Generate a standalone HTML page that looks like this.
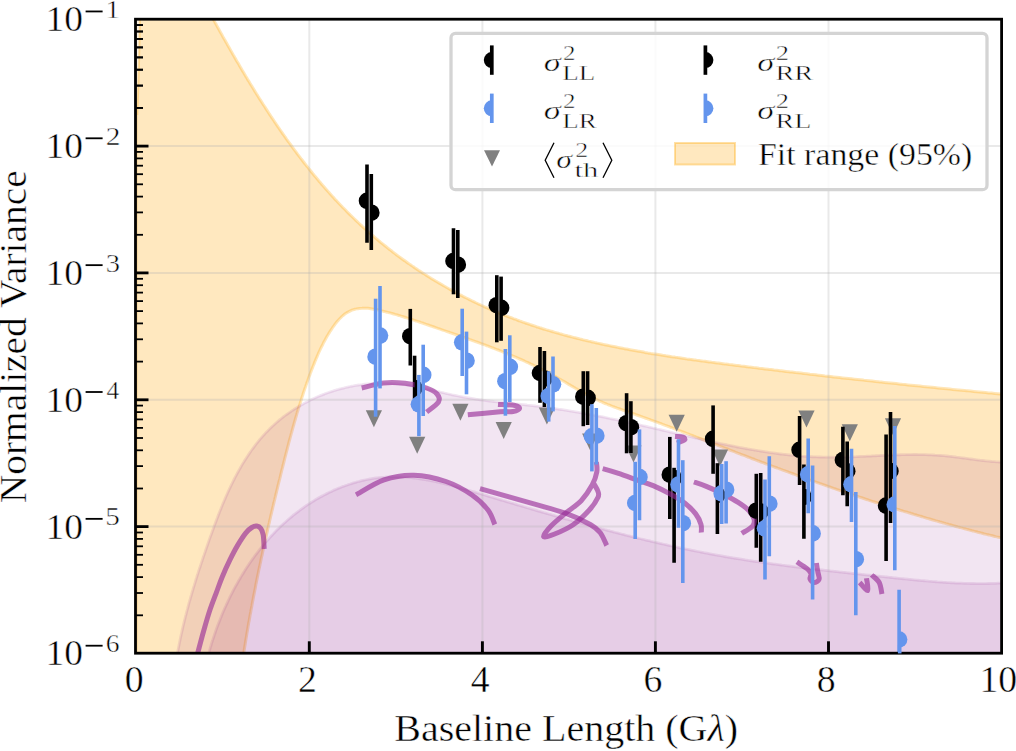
<!DOCTYPE html><html><head><meta charset="utf-8"><style>html,body{margin:0;padding:0;background:#fff;overflow:hidden;width:1016px;height:751px;}svg{display:block;}text{font-family:"Liberation Serif",serif;fill:#000;stroke:#fff;stroke-width:0.45px;}</style></head><body>
<svg width="1016" height="751" viewBox="0 0 1016 751">
<rect width="1016" height="751" fill="#fff"/>
<defs><clipPath id="c"><rect x="135.5" y="19.2" width="866.1" height="634.0"/></clipPath></defs>
<g clip-path="url(#c)">
<path d="M136,-40 L190,-20  C192.1,-19.9 192.8,-18.6 193.3,-17.8 C193.7,-16.9 194.2,-16.1 194.6,-15.2 C195.1,-14.3 195.5,-13.5 196.0,-12.6 C196.5,-11.8 196.9,-10.9 197.4,-10.1 C197.8,-9.2 198.3,-8.4 198.8,-7.5 C199.2,-6.6 199.7,-5.8 200.2,-4.9 C200.6,-4.1 201.1,-3.2 201.5,-2.4 C202.0,-1.5 202.5,-0.6 202.9,0.2 C203.4,1.1 203.9,1.9 204.3,2.8 C204.8,3.7 205.3,4.5 205.7,5.4 C206.2,6.3 206.7,7.1 207.2,8.0 C207.6,8.9 208.1,9.7 208.6,10.6 C209.0,11.4 209.5,12.3 210.0,13.2 C210.5,14.0 210.9,14.9 211.4,15.8 C211.9,16.6 212.3,17.5 212.8,18.4 C213.3,19.3 213.8,20.1 214.3,21.0 C214.7,21.9 215.2,22.7 215.7,23.6 C216.2,24.5 216.6,25.3 217.1,26.2 C217.6,27.1 218.1,27.9 218.6,28.8 C219.1,29.7 219.5,30.6 220.0,31.4 C220.5,32.3 221.0,33.2 221.5,34.0 C222.0,34.9 222.4,35.8 222.9,36.7 C223.4,37.5 223.9,38.4 224.4,39.3 C224.9,40.1 225.4,41.0 225.9,41.9 C226.4,42.8 226.9,43.6 227.3,44.5 C227.8,45.4 228.3,46.2 228.8,47.1 C229.3,48.0 229.8,48.9 230.3,49.7 C230.8,50.6 231.3,51.5 231.8,52.3 C232.3,53.2 232.8,54.1 233.3,55.0 C233.8,55.8 234.3,56.7 234.8,57.6 C235.3,58.4 235.8,59.3 236.3,60.2 C236.8,61.1 237.3,61.9 237.9,62.8 C238.4,63.7 238.9,64.5 239.4,65.4 C239.9,66.3 240.4,67.1 240.9,68.0 C241.4,68.9 241.9,69.8 242.4,70.6 C243.0,71.5 243.5,72.4 244.0,73.2 C244.5,74.1 245.0,75.0 245.5,75.8 C246.1,76.7 246.6,77.6 247.1,78.4 C247.6,79.3 248.1,80.2 248.7,81.0 C249.2,81.9 249.7,82.8 250.2,83.6 C250.8,84.5 251.3,85.4 251.8,86.2 C252.4,87.1 252.9,87.9 253.4,88.8 C253.9,89.7 254.5,90.5 255.0,91.4 C255.5,92.3 256.1,93.1 256.6,94.0 C257.1,94.8 257.7,95.7 258.2,96.6 C258.8,97.4 259.3,98.3 259.8,99.1 C260.4,100.0 260.9,100.8 261.5,101.7 C262.0,102.5 262.6,103.4 263.1,104.3 C263.7,105.1 264.2,106.0 264.8,106.8 C265.3,107.7 265.9,108.5 266.4,109.4 C267.0,110.2 267.5,111.1 268.1,111.9 C268.6,112.8 269.2,113.6 269.7,114.5 C270.3,115.3 270.8,116.2 271.4,117.0 C272.0,117.8 272.5,118.7 273.1,119.5 C273.7,120.4 274.2,121.2 274.8,122.1 C275.4,122.9 275.9,123.7 276.5,124.6 C277.1,125.4 277.6,126.3 278.2,127.1 C278.8,127.9 279.4,128.8 279.9,129.6 C280.5,130.4 281.1,131.3 281.7,132.1 C282.2,132.9 282.8,133.8 283.4,134.6 C284.0,135.4 284.6,136.3 285.2,137.1 C285.7,137.9 286.3,138.7 286.9,139.6 C287.5,140.4 288.1,141.2 288.7,142.0 C289.3,142.9 289.9,143.7 290.5,144.5 C291.1,145.3 291.7,146.1 292.2,146.9 C292.8,147.8 293.4,148.6 294.0,149.4 C294.6,150.2 295.3,151.0 295.9,151.8 C296.5,152.6 297.1,153.4 297.7,154.3 C298.3,155.1 298.9,155.9 299.5,156.7 C300.1,157.5 300.7,158.3 301.3,159.1 C302.0,159.9 302.6,160.7 303.2,161.5 C303.8,162.3 304.4,163.1 305.1,163.9 C305.7,164.7 306.3,165.5 306.9,166.3 C307.6,167.0 308.2,167.8 308.8,168.6 C309.4,169.4 310.1,170.2 310.7,171.0 C311.3,171.8 312.0,172.6 312.6,173.3 C313.2,174.1 313.9,174.9 314.5,175.7 C315.2,176.5 315.8,177.2 316.5,178.0 C317.1,178.8 317.7,179.5 318.4,180.3 C319.0,181.1 319.7,181.9 320.3,182.6 C321.0,183.4 321.6,184.2 322.3,184.9 C323.0,185.7 323.6,186.4 324.3,187.2 C324.9,188.0 325.6,188.7 326.3,189.5 C326.9,190.2 327.6,191.0 328.3,191.7 C328.9,192.5 329.6,193.2 330.3,194.0 C330.9,194.7 331.6,195.5 332.3,196.2 C333.0,196.9 333.6,197.7 334.3,198.4 C335.0,199.2 335.7,199.9 336.4,200.6 C337.1,201.4 337.7,202.1 338.4,202.8 C339.1,203.6 339.8,204.3 340.5,205.0 C341.2,205.7 341.9,206.4 342.6,207.2 C343.3,207.9 344.0,208.6 344.7,209.3 C345.4,210.0 346.1,210.7 346.8,211.5 C347.5,212.2 348.2,212.9 348.9,213.6 C349.6,214.3 350.3,215.0 351.0,215.7 C351.8,216.4 352.5,217.1 353.2,217.8 C353.9,218.5 354.6,219.2 355.4,219.9 C356.1,220.6 356.8,221.2 357.5,221.9 C358.3,222.6 359.0,223.3 359.7,224.0 C360.4,224.7 361.2,225.3 361.9,226.0 C362.6,226.7 363.4,227.4 364.1,228.0 C364.9,228.7 365.6,229.4 366.4,230.0 C367.1,230.7 367.8,231.4 368.6,232.0 C369.3,232.7 370.1,233.3 370.8,234.0 C371.6,234.6 372.4,235.3 373.1,235.9 C373.9,236.6 374.6,237.2 375.4,237.9 C376.1,238.5 376.9,239.2 377.7,239.8 C378.4,240.5 379.2,241.1 380.0,241.7 C380.7,242.4 381.5,243.0 382.3,243.6 C383.1,244.3 383.8,244.9 384.6,245.5 C385.4,246.1 386.2,246.7 387.0,247.4 C387.7,248.0 388.5,248.6 389.3,249.2 C390.1,249.8 390.9,250.4 391.7,251.0 C392.4,251.7 393.2,252.3 394.0,252.9 C394.8,253.5 395.6,254.1 396.4,254.7 C397.2,255.3 398.0,255.9 398.8,256.5 C399.6,257.0 400.4,257.6 401.2,258.2 C402.0,258.8 402.8,259.4 403.6,260.0 C404.4,260.6 405.3,261.1 406.1,261.7 C406.9,262.3 407.7,262.9 408.5,263.4 C409.3,264.0 410.1,264.6 411.0,265.1 C411.8,265.7 412.6,266.3 413.4,266.8 C414.2,267.4 415.1,267.9 415.9,268.5 C416.7,269.1 417.5,269.6 418.4,270.2 C419.2,270.7 420.0,271.3 420.9,271.8 C421.7,272.3 422.5,272.9 423.4,273.4 C424.2,274.0 425.0,274.5 425.9,275.0 C426.7,275.6 427.6,276.1 428.4,276.6 C429.2,277.2 430.1,277.7 430.9,278.2 C431.8,278.7 432.6,279.2 433.5,279.8 C434.3,280.3 435.2,280.8 436.0,281.3 C436.9,281.8 437.7,282.3 438.6,282.8 C439.4,283.3 440.3,283.8 441.2,284.3 C442.0,284.8 442.9,285.3 443.7,285.8 C444.6,286.3 445.5,286.8 446.3,287.3 C447.2,287.8 448.1,288.3 448.9,288.8 C449.8,289.3 450.7,289.7 451.5,290.2 C452.4,290.7 453.3,291.2 454.2,291.7 C455.0,292.1 455.9,292.6 456.8,293.1 C457.7,293.5 458.5,294.0 459.4,294.5 C460.3,294.9 461.2,295.4 462.1,295.8 C463.0,296.3 463.8,296.8 464.7,297.2 C465.6,297.7 466.5,298.1 467.4,298.5 C468.3,299.0 469.2,299.4 470.1,299.9 C471.0,300.3 471.8,300.7 472.7,301.2 C473.6,301.6 474.5,302.0 475.4,302.5 C476.3,302.9 477.2,303.3 478.1,303.8 C479.0,304.2 479.9,304.6 480.8,305.0 C481.7,305.4 482.6,305.8 483.5,306.3 C484.4,306.7 485.3,307.1 486.3,307.5 C487.2,307.9 488.1,308.3 489.0,308.7 C489.9,309.1 490.8,309.5 491.7,309.9 C492.6,310.3 493.5,310.7 494.5,311.1 C495.4,311.4 496.3,311.8 497.2,312.2 C498.1,312.6 499.0,313.0 500.0,313.4 C500.9,313.7 501.8,314.1 502.7,314.5 C503.7,314.8 504.6,315.2 505.5,315.6 C506.4,315.9 507.4,316.3 508.3,316.7 C509.2,317.0 510.1,317.4 511.1,317.7 C512.0,318.1 512.9,318.4 513.9,318.8 C514.8,319.1 515.7,319.5 516.7,319.8 C517.6,320.2 518.5,320.5 519.5,320.9 C520.4,321.2 521.3,321.5 522.3,321.9 C523.2,322.2 524.2,322.5 525.1,322.8 C526.0,323.2 527.0,323.5 527.9,323.8 C528.9,324.1 529.8,324.5 530.7,324.8 C531.7,325.1 532.6,325.4 533.6,325.7 C534.5,326.0 535.5,326.4 536.4,326.7 C537.4,327.0 538.3,327.3 539.3,327.6 C540.2,327.9 541.2,328.2 542.1,328.5 C543.1,328.8 544.0,329.1 545.0,329.4 C545.9,329.7 546.9,329.9 547.9,330.2 C548.8,330.5 549.8,330.8 550.7,331.1 C551.7,331.4 552.6,331.7 553.6,331.9 C554.6,332.2 555.5,332.5 556.5,332.8 C557.4,333.0 558.4,333.3 559.4,333.6 C560.3,333.9 561.3,334.1 562.3,334.4 C563.2,334.7 564.2,334.9 565.2,335.2 C566.1,335.4 567.1,335.7 568.1,336.0 C569.0,336.2 570.0,336.5 571.0,336.7 C571.9,337.0 572.9,337.2 573.9,337.5 C574.8,337.7 575.8,338.0 576.8,338.2 C577.8,338.5 578.7,338.7 579.7,338.9 C580.7,339.2 581.7,339.4 582.6,339.7 C583.6,339.9 584.6,340.1 585.6,340.4 C586.5,340.6 587.5,340.8 588.5,341.1 C589.5,341.3 590.5,341.5 591.4,341.7 C592.4,342.0 593.4,342.2 594.4,342.4 C595.4,342.6 596.3,342.9 597.3,343.1 C598.3,343.3 599.3,343.5 600.3,343.7 C601.2,343.9 602.2,344.2 603.2,344.4 C604.2,344.6 605.2,344.8 606.2,345.0 C607.2,345.2 608.1,345.4 609.1,345.6 C610.1,345.8 611.1,346.0 612.1,346.2 C613.1,346.4 614.1,346.6 615.1,346.8 C616.0,347.0 617.0,347.2 618.0,347.4 C619.0,347.6 620.0,347.8 621.0,348.0 C622.0,348.2 623.0,348.4 624.0,348.6 C625.0,348.8 625.9,349.0 626.9,349.1 C627.9,349.3 628.9,349.5 629.9,349.7 C630.9,349.9 631.9,350.1 632.9,350.2 C633.9,350.4 634.9,350.6 635.9,350.8 C636.9,351.0 637.9,351.1 638.9,351.3 C639.9,351.5 640.9,351.7 641.9,351.8 C642.9,352.0 643.9,352.2 644.8,352.4 C645.8,352.5 646.8,352.7 647.8,352.9 C648.8,353.0 649.8,353.2 650.8,353.4 C651.8,353.5 652.8,353.7 653.8,353.9 C654.8,354.0 655.8,354.2 656.8,354.3 C657.8,354.5 658.8,354.7 659.8,354.8 C660.8,355.0 661.8,355.1 662.8,355.3 C663.8,355.4 664.8,355.6 665.8,355.8 C666.8,355.9 667.8,356.1 668.8,356.2 C669.8,356.4 670.8,356.5 671.8,356.7 C672.8,356.8 673.8,357.0 674.8,357.1 C675.8,357.3 676.8,357.4 677.9,357.6 C678.9,357.7 679.9,357.9 680.9,358.0 C681.9,358.2 682.9,358.3 683.9,358.4 C684.9,358.6 685.9,358.7 686.9,358.9 C687.9,359.0 688.9,359.1 689.9,359.3 C690.9,359.4 691.9,359.6 692.9,359.7 C693.9,359.8 694.9,360.0 695.9,360.1 C696.9,360.3 697.9,360.4 698.9,360.5 C699.9,360.7 700.9,360.8 701.9,360.9 C702.9,361.1 703.9,361.2 704.9,361.3 C705.9,361.5 706.9,361.6 707.9,361.7 C708.9,361.9 710.0,362.0 711.0,362.1 C712.0,362.3 713.0,362.4 714.0,362.5 C715.0,362.7 716.0,362.8 717.0,362.9 C718.0,363.0 719.0,363.2 720.0,363.3 C721.0,363.4 722.0,363.6 723.0,363.7 C724.0,363.8 725.0,363.9 726.0,364.1 C727.0,364.2 728.0,364.3 729.0,364.5 C730.0,364.6 731.0,364.7 732.0,364.8 C733.0,365.0 734.0,365.1 735.0,365.2 C736.0,365.3 737.0,365.5 738.0,365.6 C739.0,365.7 740.0,365.8 741.0,366.0 C742.0,366.1 743.0,366.2 744.0,366.3 C745.0,366.4 746.0,366.6 747.0,366.7 C748.0,366.8 749.0,366.9 750.0,367.1 C751.0,367.2 752.0,367.3 753.0,367.4 C754.0,367.6 755.0,367.7 756.0,367.8 C757.0,367.9 758.0,368.0 759.0,368.2 C760.0,368.3 761.0,368.4 762.0,368.5 C763.0,368.6 764.0,368.8 765.0,368.9 C766.0,369.0 767.0,369.1 768.0,369.2 C769.0,369.4 770.0,369.5 771.0,369.6 C772.0,369.7 773.0,369.8 774.0,370.0 C775.0,370.1 776.0,370.2 777.0,370.3 C778.0,370.4 779.0,370.6 780.0,370.7 C781.0,370.8 781.9,370.9 782.9,371.0 C783.9,371.1 784.9,371.3 785.9,371.4 C786.9,371.5 787.9,371.6 788.9,371.7 C789.9,371.9 790.9,372.0 791.9,372.1 C792.9,372.2 793.9,372.3 794.9,372.4 C795.9,372.6 796.9,372.7 797.9,372.8 C798.9,372.9 799.9,373.0 800.9,373.1 C801.9,373.2 802.8,373.4 803.8,373.5 C804.8,373.6 805.8,373.7 806.8,373.8 C807.8,373.9 808.8,374.0 809.8,374.2 C810.8,374.3 811.8,374.4 812.8,374.5 C813.8,374.6 814.8,374.7 815.8,374.8 C816.8,375.0 817.8,375.1 818.7,375.2 C819.7,375.3 820.7,375.4 821.7,375.5 C822.7,375.6 823.7,375.7 824.7,375.9 C825.7,376.0 826.7,376.1 827.7,376.2 C828.7,376.3 829.7,376.4 830.7,376.5 C831.7,376.6 832.6,376.8 833.6,376.9 C834.6,377.0 835.6,377.1 836.6,377.2 C837.6,377.3 838.6,377.4 839.6,377.5 C840.6,377.6 841.6,377.8 842.6,377.9 C843.6,378.0 844.6,378.1 845.5,378.2 C846.5,378.3 847.5,378.4 848.5,378.5 C849.5,378.6 850.5,378.7 851.5,378.8 C852.5,379.0 853.5,379.1 854.5,379.2 C855.5,379.3 856.5,379.4 857.5,379.5 C858.4,379.6 859.4,379.7 860.4,379.8 C861.4,379.9 862.4,380.0 863.4,380.1 C864.4,380.3 865.4,380.4 866.4,380.5 C867.4,380.6 868.4,380.7 869.4,380.8 C870.3,380.9 871.3,381.0 872.3,381.1 C873.3,381.2 874.3,381.3 875.3,381.4 C876.3,381.5 877.3,381.6 878.3,381.7 C879.3,381.8 880.3,382.0 881.3,382.1 C882.2,382.2 883.2,382.3 884.2,382.4 C885.2,382.5 886.2,382.6 887.2,382.7 C888.2,382.8 889.2,382.9 890.2,383.0 C891.2,383.1 892.2,383.2 893.2,383.3 C894.1,383.4 895.1,383.5 896.1,383.6 C897.1,383.7 898.1,383.8 899.1,383.9 C900.1,384.0 901.1,384.1 902.1,384.3 C903.1,384.4 904.1,384.5 905.1,384.6 C906.1,384.7 907.0,384.8 908.0,384.9 C909.0,385.0 910.0,385.1 911.0,385.2 C912.0,385.3 913.0,385.4 914.0,385.5 C915.0,385.6 916.0,385.7 917.0,385.8 C918.0,385.9 919.0,386.0 919.9,386.1 C920.9,386.2 921.9,386.3 922.9,386.4 C923.9,386.5 924.9,386.6 925.9,386.7 C926.9,386.8 927.9,386.9 928.9,387.0 C929.9,387.1 930.9,387.2 931.9,387.3 C932.9,387.4 933.9,387.5 934.8,387.6 C935.8,387.7 936.8,387.8 937.8,387.9 C938.8,388.0 939.8,388.1 940.8,388.2 C941.8,388.3 942.8,388.4 943.8,388.5 C944.8,388.6 945.8,388.7 946.8,388.8 C947.8,388.9 948.8,389.0 949.8,389.1 C950.8,389.2 951.8,389.3 952.7,389.4 C953.7,389.5 954.7,389.6 955.7,389.7 C956.7,389.8 957.7,389.9 958.7,390.0 C959.7,390.1 960.7,390.2 961.7,390.3 C962.7,390.4 963.7,390.5 964.7,390.6 C965.7,390.7 966.7,390.7 967.7,390.8 C968.7,390.9 969.7,391.0 970.7,391.1 C971.7,391.2 972.7,391.3 973.7,391.4 C974.7,391.5 975.7,391.6 976.7,391.7 C977.7,391.8 978.7,391.9 979.7,392.0 C980.6,392.1 981.6,392.2 982.6,392.3 C983.6,392.4 984.6,392.5 985.6,392.6 C986.6,392.7 987.6,392.8 988.6,392.9 C989.6,393.0 990.6,393.1 991.6,393.1 C992.6,393.2 993.6,393.3 994.6,393.4 C995.6,393.5 996.6,393.6 997.6,393.7 C998.6,393.8 999.6,393.9 1000.6,394.0 C1001.6,394.1 1002.6,394.2 1003.6,394.3 C1004.6,394.4 1005.6,394.5 1006.6,394.6 C1007.6,394.7 1009.1,394.8 1009.6,394.8 L1010,540  C1009.6,539.9 1008.1,539.6 1007.1,539.4 C1006.2,539.1 1005.2,538.9 1004.2,538.7 C1003.2,538.4 1002.3,538.2 1001.3,538.0 C1000.3,537.7 999.3,537.5 998.3,537.3 C997.4,537.0 996.4,536.8 995.4,536.6 C994.4,536.3 993.5,536.1 992.5,535.8 C991.5,535.6 990.5,535.4 989.6,535.1 C988.6,534.9 987.6,534.6 986.6,534.4 C985.7,534.2 984.7,533.9 983.7,533.7 C982.7,533.4 981.8,533.2 980.8,532.9 C979.8,532.7 978.8,532.4 977.9,532.2 C976.9,531.9 975.9,531.7 974.9,531.4 C974.0,531.2 973.0,530.9 972.0,530.7 C971.1,530.4 970.1,530.2 969.1,529.9 C968.1,529.6 967.2,529.4 966.2,529.1 C965.2,528.9 964.3,528.6 963.3,528.4 C962.3,528.1 961.3,527.8 960.4,527.6 C959.4,527.3 958.4,527.1 957.5,526.8 C956.5,526.5 955.5,526.3 954.6,526.0 C953.6,525.7 952.6,525.5 951.7,525.2 C950.7,524.9 949.7,524.7 948.7,524.4 C947.8,524.1 946.8,523.9 945.8,523.6 C944.9,523.3 943.9,523.1 942.9,522.8 C942.0,522.5 941.0,522.2 940.0,522.0 C939.1,521.7 938.1,521.4 937.2,521.1 C936.2,520.9 935.2,520.6 934.3,520.3 C933.3,520.0 932.3,519.8 931.4,519.5 C930.4,519.2 929.4,518.9 928.5,518.6 C927.5,518.4 926.5,518.1 925.6,517.8 C924.6,517.5 923.7,517.2 922.7,516.9 C921.7,516.7 920.8,516.4 919.8,516.1 C918.8,515.8 917.9,515.5 916.9,515.2 C916.0,514.9 915.0,514.7 914.0,514.4 C913.1,514.1 912.1,513.8 911.1,513.5 C910.2,513.2 909.2,512.9 908.3,512.6 C907.3,512.3 906.3,512.0 905.4,511.8 C904.4,511.5 903.5,511.2 902.5,510.9 C901.5,510.6 900.6,510.3 899.6,510.0 C898.7,509.7 897.7,509.4 896.8,509.1 C895.8,508.8 894.8,508.5 893.9,508.2 C892.9,507.9 892.0,507.6 891.0,507.3 C890.0,507.0 889.1,506.7 888.1,506.4 C887.2,506.1 886.2,505.8 885.3,505.5 C884.3,505.2 883.4,504.9 882.4,504.6 C881.4,504.3 880.5,503.9 879.5,503.6 C878.6,503.3 877.6,503.0 876.7,502.7 C875.7,502.4 874.8,502.1 873.8,501.8 C872.8,501.5 871.9,501.2 870.9,500.9 C870.0,500.5 869.0,500.2 868.1,499.9 C867.1,499.6 866.2,499.3 865.2,499.0 C864.3,498.7 863.3,498.3 862.4,498.0 C861.4,497.7 860.4,497.4 859.5,497.1 C858.5,496.8 857.6,496.4 856.6,496.1 C855.7,495.8 854.7,495.5 853.8,495.2 C852.8,494.9 851.9,494.5 850.9,494.2 C850.0,493.9 849.0,493.6 848.1,493.2 C847.1,492.9 846.2,492.6 845.2,492.3 C844.3,492.0 843.3,491.6 842.4,491.3 C841.4,491.0 840.5,490.7 839.5,490.3 C838.6,490.0 837.6,489.7 836.7,489.4 C835.7,489.0 834.8,488.7 833.8,488.4 C832.9,488.0 831.9,487.7 831.0,487.4 C830.0,487.1 829.1,486.7 828.1,486.4 C827.2,486.1 826.2,485.7 825.3,485.4 C824.4,485.1 823.4,484.7 822.5,484.4 C821.5,484.1 820.6,483.7 819.6,483.4 C818.7,483.1 817.7,482.7 816.8,482.4 C815.8,482.1 814.9,481.7 813.9,481.4 C813.0,481.0 812.1,480.7 811.1,480.4 C810.2,480.0 809.2,479.7 808.3,479.4 C807.3,479.0 806.4,478.7 805.4,478.3 C804.5,478.0 803.5,477.7 802.6,477.3 C801.7,477.0 800.7,476.6 799.8,476.3 C798.8,476.0 797.9,475.6 796.9,475.3 C796.0,474.9 795.1,474.6 794.1,474.2 C793.2,473.9 792.2,473.6 791.3,473.2 C790.3,472.9 789.4,472.5 788.5,472.2 C787.5,471.8 786.6,471.5 785.6,471.1 C784.7,470.8 783.7,470.4 782.8,470.1 C781.9,469.7 780.9,469.4 780.0,469.0 C779.0,468.7 778.1,468.4 777.2,468.0 C776.2,467.7 775.3,467.3 774.3,467.0 C773.4,466.6 772.4,466.2 771.5,465.9 C770.6,465.5 769.6,465.2 768.7,464.8 C767.7,464.5 766.8,464.1 765.9,463.8 C764.9,463.4 764.0,463.1 763.0,462.7 C762.1,462.4 761.2,462.0 760.2,461.7 C759.3,461.3 758.4,461.0 757.4,460.6 C756.5,460.2 755.5,459.9 754.6,459.5 C753.7,459.2 752.7,458.8 751.8,458.5 C750.8,458.1 749.9,457.7 749.0,457.4 C748.0,457.0 747.1,456.7 746.2,456.3 C745.2,456.0 744.3,455.6 743.3,455.2 C742.4,454.9 741.5,454.5 740.5,454.2 C739.6,453.8 738.7,453.4 737.7,453.1 C736.8,452.7 735.8,452.4 734.9,452.0 C734.0,451.6 733.0,451.3 732.1,450.9 C731.2,450.6 730.2,450.2 729.3,449.8 C728.4,449.5 727.4,449.1 726.5,448.7 C725.5,448.4 724.6,448.0 723.7,447.7 C722.7,447.3 721.8,446.9 720.9,446.6 C719.9,446.2 719.0,445.9 718.1,445.5 C717.1,445.1 716.2,444.8 715.2,444.4 C714.3,444.0 713.4,443.7 712.4,443.3 C711.5,443.0 710.6,442.6 709.6,442.2 C708.7,441.9 707.8,441.5 706.8,441.1 C705.9,440.8 704.9,440.4 704.0,440.1 C703.1,439.7 702.1,439.3 701.2,439.0 C700.3,438.6 699.3,438.3 698.4,437.9 C697.5,437.5 696.5,437.2 695.6,436.8 C694.6,436.5 693.7,436.1 692.8,435.7 C691.8,435.4 690.9,435.0 690.0,434.7 C689.0,434.3 688.1,433.9 687.1,433.6 C686.2,433.2 685.3,432.9 684.3,432.5 C683.4,432.2 682.5,431.8 681.5,431.4 C680.6,431.1 679.6,430.7 678.7,430.4 C677.8,430.0 676.8,429.7 675.9,429.3 C674.9,429.0 674.0,428.6 673.1,428.2 C672.1,427.9 671.2,427.5 670.2,427.2 C669.3,426.8 668.4,426.5 667.4,426.1 C666.5,425.8 665.5,425.4 664.6,425.1 C663.7,424.7 662.7,424.4 661.8,424.0 C660.8,423.7 659.9,423.3 659.0,423.0 C658.0,422.6 657.1,422.3 656.1,421.9 C655.2,421.6 654.2,421.2 653.3,420.9 C652.4,420.6 651.4,420.2 650.5,419.9 C649.5,419.5 648.6,419.2 647.6,418.8 C646.7,418.5 645.7,418.2 644.8,417.8 C643.9,417.5 642.9,417.1 642.0,416.8 C641.0,416.5 640.1,416.1 639.1,415.8 C638.2,415.4 637.2,415.1 636.3,414.8 C635.3,414.4 634.4,414.1 633.4,413.8 C632.5,413.4 631.5,413.1 630.6,412.8 C629.6,412.4 628.7,412.1 627.7,411.8 C626.8,411.5 625.8,411.1 624.9,410.8 C623.9,410.5 623.0,410.1 622.0,409.8 C621.1,409.5 620.2,409.1 619.2,408.8 C618.3,408.5 617.3,408.1 616.4,407.8 C615.4,407.5 614.5,407.1 613.5,406.8 C612.6,406.4 611.7,406.1 610.7,405.7 C609.8,405.3 608.9,405.0 607.9,404.6 C607.0,404.2 606.1,403.9 605.1,403.5 C604.2,403.1 603.3,402.7 602.4,402.3 C601.5,401.9 600.5,401.5 599.6,401.1 C598.7,400.7 597.8,400.3 596.9,399.8 C596.0,399.4 595.1,399.0 594.2,398.5 C593.3,398.1 592.4,397.6 591.5,397.2 C590.6,396.7 589.8,396.3 588.9,395.8 C588.0,395.3 587.1,394.9 586.2,394.4 C585.4,393.9 584.5,393.4 583.6,392.9 C582.7,392.4 581.8,391.9 581.0,391.5 C580.1,391.0 579.2,390.5 578.4,390.0 C577.5,389.5 576.6,389.0 575.8,388.5 C574.9,387.9 574.0,387.4 573.2,386.9 C572.3,386.4 571.4,385.9 570.6,385.4 C569.7,384.9 568.8,384.4 568.0,383.9 C567.1,383.4 566.2,382.9 565.4,382.3 C564.5,381.8 563.6,381.3 562.7,380.8 C561.9,380.3 561.0,379.8 560.1,379.3 C559.3,378.8 558.4,378.3 557.5,377.8 C556.6,377.3 555.8,376.8 554.9,376.3 C554.0,375.8 553.1,375.4 552.2,374.9 C551.4,374.4 550.5,373.9 549.6,373.4 C548.7,373.0 547.8,372.5 546.9,372.0 C546.0,371.6 545.2,371.1 544.3,370.6 C543.4,370.2 542.5,369.7 541.6,369.3 C540.7,368.8 539.8,368.4 538.9,367.9 C538.0,367.5 537.1,367.0 536.2,366.6 C535.3,366.1 534.4,365.7 533.5,365.3 C532.6,364.8 531.6,364.4 530.7,364.0 C529.8,363.6 528.9,363.1 528.0,362.7 C527.1,362.3 526.2,361.9 525.3,361.5 C524.3,361.0 523.4,360.6 522.5,360.2 C521.6,359.8 520.7,359.4 519.7,359.0 C518.8,358.6 517.9,358.2 517.0,357.8 C516.1,357.4 515.1,357.0 514.2,356.6 C513.3,356.2 512.4,355.8 511.4,355.4 C510.5,355.1 509.6,354.7 508.6,354.3 C507.7,353.9 506.8,353.5 505.9,353.1 C504.9,352.8 504.0,352.4 503.1,352.0 C502.1,351.6 501.2,351.3 500.3,350.9 C499.3,350.5 498.4,350.1 497.4,349.8 C496.5,349.4 495.6,349.1 494.6,348.7 C493.7,348.3 492.8,348.0 491.8,347.6 C490.9,347.2 489.9,346.9 489.0,346.5 C488.0,346.2 487.1,345.8 486.2,345.5 C485.2,345.1 484.3,344.8 483.3,344.4 C482.4,344.1 481.5,343.7 480.5,343.4 C479.6,343.0 478.6,342.7 477.7,342.3 C476.7,342.0 475.8,341.7 474.8,341.3 C473.9,341.0 472.9,340.6 472.0,340.3 C471.1,340.0 470.1,339.6 469.2,339.3 C468.2,338.9 467.3,338.6 466.3,338.3 C465.4,337.9 464.4,337.6 463.5,337.3 C462.5,336.9 461.6,336.6 460.6,336.3 C459.7,335.9 458.7,335.6 457.8,335.3 C456.9,334.9 455.9,334.6 455.0,334.3 C454.0,334.0 453.1,333.6 452.1,333.3 C451.2,333.0 450.2,332.6 449.3,332.3 C448.3,332.0 447.4,331.7 446.4,331.3 C445.5,331.0 444.6,330.7 443.6,330.4 C442.7,330.0 441.7,329.7 440.8,329.4 C439.8,329.1 438.9,328.7 437.9,328.4 C437.0,328.1 436.1,327.8 435.1,327.4 C434.2,327.1 433.2,326.8 432.3,326.4 C431.4,326.1 430.4,325.8 429.5,325.5 C428.5,325.1 427.6,324.8 426.6,324.5 C425.7,324.2 424.8,323.8 423.8,323.5 C422.9,323.2 421.9,322.9 421.0,322.6 C420.1,322.2 419.1,321.9 418.2,321.6 C417.2,321.3 416.3,321.0 415.3,320.7 C414.4,320.3 413.4,320.0 412.5,319.7 C411.5,319.4 410.6,319.1 409.6,318.8 C408.7,318.5 407.7,318.2 406.8,317.9 C405.8,317.6 404.8,317.3 403.9,317.0 C402.9,316.7 402.0,316.4 401.0,316.1 C400.0,315.8 399.1,315.5 398.1,315.2 C397.1,314.9 396.1,314.6 395.2,314.4 C394.2,314.1 393.2,313.8 392.2,313.5 C391.2,313.3 390.2,313.0 389.3,312.7 C388.3,312.5 387.3,312.2 386.3,312.0 C385.3,311.7 384.3,311.5 383.3,311.2 C382.3,311.0 381.2,310.7 380.2,310.5 C379.2,310.2 378.2,310.0 377.2,309.8 C376.2,309.6 375.1,309.4 374.1,309.2 C373.1,309.0 372.1,308.8 371.1,308.7 C370.1,308.6 369.0,308.4 368.0,308.3 C367.0,308.3 366.0,308.2 365.0,308.2 C364.0,308.1 363.1,308.1 362.1,308.2 C361.1,308.2 360.1,308.3 359.2,308.4 C358.2,308.5 357.3,308.7 356.4,308.9 C355.4,309.1 354.5,309.4 353.6,309.6 C352.7,309.9 351.8,310.3 351.0,310.6 C350.1,311.0 349.2,311.4 348.4,311.9 C347.6,312.3 346.8,312.8 346.0,313.3 C345.2,313.8 344.4,314.4 343.7,315.0 C342.9,315.6 342.2,316.3 341.5,316.9 C340.8,317.6 340.1,318.3 339.4,319.0 C338.7,319.7 338.1,320.5 337.4,321.3 C336.8,322.0 336.1,322.8 335.5,323.6 C334.9,324.4 334.3,325.3 333.7,326.1 C333.1,326.9 332.5,327.7 332.0,328.6 C331.4,329.4 330.9,330.3 330.3,331.1 C329.8,332.0 329.2,332.8 328.7,333.7 C328.2,334.6 327.6,335.4 327.1,336.3 C326.6,337.2 326.1,338.1 325.6,339.0 C325.1,339.9 324.7,340.8 324.2,341.6 C323.7,342.5 323.2,343.4 322.8,344.4 C322.3,345.3 321.9,346.2 321.4,347.1 C321.0,348.0 320.5,348.9 320.1,349.8 C319.7,350.8 319.3,351.7 318.8,352.6 C318.4,353.5 318.0,354.5 317.6,355.4 C317.2,356.3 316.8,357.3 316.4,358.2 C316.0,359.1 315.6,360.1 315.2,361.0 C314.8,362.0 314.4,362.9 314.1,363.9 C313.7,364.8 313.3,365.7 312.9,366.7 C312.6,367.6 312.2,368.6 311.8,369.5 C311.5,370.5 311.1,371.4 310.7,372.4 C310.4,373.3 310.0,374.2 309.7,375.2 C309.3,376.1 309.0,377.1 308.6,378.0 C308.3,379.0 307.9,379.9 307.6,380.9 C307.3,381.8 306.9,382.8 306.6,383.7 C306.2,384.7 305.9,385.6 305.6,386.6 C305.3,387.5 304.9,388.5 304.6,389.4 C304.3,390.4 304.0,391.3 303.6,392.3 C303.3,393.2 303.0,394.2 302.7,395.2 C302.4,396.1 302.1,397.1 301.8,398.0 C301.5,399.0 301.2,399.9 300.9,400.9 C300.6,401.8 300.3,402.8 300.0,403.8 C299.7,404.7 299.4,405.7 299.1,406.6 C298.8,407.6 298.5,408.5 298.2,409.5 C297.9,410.5 297.6,411.4 297.3,412.4 C297.0,413.3 296.8,414.3 296.5,415.3 C296.2,416.2 295.9,417.2 295.6,418.1 C295.4,419.1 295.1,420.1 294.8,421.0 C294.5,422.0 294.3,422.9 294.0,423.9 C293.7,424.9 293.4,425.8 293.2,426.8 C292.9,427.8 292.6,428.7 292.4,429.7 C292.1,430.6 291.8,431.6 291.6,432.6 C291.3,433.5 291.1,434.5 290.8,435.5 C290.5,436.4 290.3,437.4 290.0,438.4 C289.8,439.3 289.5,440.3 289.2,441.3 C289.0,442.2 288.7,443.2 288.5,444.2 C288.2,445.1 288.0,446.1 287.7,447.1 C287.5,448.0 287.2,449.0 287.0,450.0 C286.7,450.9 286.5,451.9 286.2,452.9 C286.0,453.8 285.7,454.8 285.5,455.8 C285.2,456.7 285.0,457.7 284.7,458.7 C284.5,459.7 284.3,460.6 284.0,461.6 C283.8,462.6 283.5,463.5 283.3,464.5 C283.0,465.5 282.8,466.5 282.6,467.4 C282.3,468.4 282.1,469.4 281.8,470.3 C281.6,471.3 281.3,472.3 281.1,473.3 C280.9,474.2 280.6,475.2 280.4,476.2 C280.1,477.2 279.9,478.1 279.7,479.1 C279.4,480.1 279.2,481.0 278.9,482.0 C278.7,483.0 278.5,484.0 278.2,484.9 C278.0,485.9 277.7,486.9 277.5,487.9 C277.3,488.8 277.0,489.8 276.8,490.8 C276.6,491.8 276.3,492.7 276.1,493.7 C275.8,494.7 275.6,495.7 275.4,496.6 C275.1,497.6 274.9,498.6 274.7,499.6 C274.4,500.6 274.2,501.5 274.0,502.5 C273.7,503.5 273.5,504.5 273.3,505.4 C273.0,506.4 272.8,507.4 272.6,508.4 C272.4,509.4 272.1,510.3 271.9,511.3 C271.7,512.3 271.4,513.3 271.2,514.2 C271.0,515.2 270.7,516.2 270.5,517.2 C270.3,518.2 270.1,519.1 269.8,520.1 C269.6,521.1 269.4,522.1 269.2,523.1 C268.9,524.0 268.7,525.0 268.5,526.0 C268.3,527.0 268.0,528.0 267.8,528.9 C267.6,529.9 267.4,530.9 267.2,531.9 C266.9,532.9 266.7,533.8 266.5,534.8 C266.3,535.8 266.0,536.8 265.8,537.8 C265.6,538.8 265.4,539.7 265.2,540.7 C265.0,541.7 264.7,542.7 264.5,543.7 C264.3,544.6 264.1,545.6 263.9,546.6 C263.7,547.6 263.4,548.6 263.2,549.6 C263.0,550.5 262.8,551.5 262.6,552.5 C262.4,553.5 262.2,554.5 262.0,555.5 C261.7,556.4 261.5,557.4 261.3,558.4 C261.1,559.4 260.9,560.4 260.7,561.4 C260.5,562.4 260.3,563.3 260.1,564.3 C259.9,565.3 259.7,566.3 259.5,567.3 C259.2,568.3 259.0,569.2 258.8,570.2 C258.6,571.2 258.4,572.2 258.2,573.2 C258.0,574.2 257.8,575.2 257.6,576.1 C257.4,577.1 257.2,578.1 257.0,579.1 C256.8,580.1 256.6,581.1 256.4,582.1 C256.2,583.0 256.0,584.0 255.8,585.0 C255.6,586.0 255.5,587.0 255.3,588.0 C255.1,589.0 254.9,589.9 254.7,590.9 C254.5,591.9 254.3,592.9 254.1,593.9 C253.9,594.9 253.7,595.9 253.5,596.9 C253.3,597.8 253.2,598.8 253.0,599.8 C252.8,600.8 252.6,601.8 252.4,602.8 C252.2,603.8 252.0,604.8 251.9,605.7 C251.7,606.7 251.5,607.7 251.3,608.7 C251.1,609.7 250.9,610.7 250.8,611.7 C250.6,612.7 250.4,613.6 250.2,614.6 C250.0,615.6 249.9,616.6 249.7,617.6 C249.5,618.6 249.3,619.6 249.2,620.6 C249.0,621.6 248.8,622.5 248.6,623.5 C248.5,624.5 248.3,625.5 248.1,626.5 C248.0,627.5 247.8,628.5 247.6,629.5 C247.4,630.5 247.3,631.4 247.1,632.4 C246.9,633.4 246.8,634.4 246.6,635.4 C246.5,636.4 246.3,637.4 246.1,638.4 C246.0,639.4 245.8,640.3 245.6,641.3 C245.5,642.3 245.3,643.3 245.2,644.3 C245.0,645.3 244.8,646.3 244.7,647.3 C244.5,648.3 244.4,649.3 244.2,650.2 C244.1,651.2 243.9,652.2 243.8,653.2 C243.6,654.2 243.5,655.2 243.3,656.2 C243.2,657.2 243.0,658.2 242.9,659.1 C242.7,660.1 242.6,661.1 242.4,662.1 C242.3,663.1 242.1,664.1 242.0,665.1 C241.8,666.1 241.7,667.1 241.6,668.1 C241.4,669.0 241.3,670.0 241.1,671.0 C241.0,672.0 240.9,673.0 240.7,674.0 C240.6,675.0 240.5,676.0 240.3,677.0 C240.2,678.0 240.0,679.4 239.9,679.9 L136,680 Z" fill="rgba(255,165,0,0.25)" stroke="rgba(255,165,0,0.28)" stroke-width="3"/>
<path d="M136,19 L139.6,19 C139.2,50 138.4,80 137,115 L136,115 Z" fill="rgba(255,255,255,0.75)"/>
<path d="M139.8,19 C139.4,50 138.6,80 137.2,115" fill="none" stroke="rgba(255,165,0,0.28)" stroke-width="2.2"/>
<path d="M173.3,680.4 C173.3,679.9 173.5,678.3 173.7,677.3 C173.8,676.2 173.9,675.2 174.1,674.1 C174.2,673.1 174.4,672.1 174.5,671.0 C174.7,670.0 174.8,669.0 175.0,667.9 C175.2,666.9 175.3,665.9 175.5,664.9 C175.6,663.8 175.8,662.8 176.0,661.8 C176.1,660.8 176.3,659.8 176.5,658.7 C176.7,657.7 176.8,656.7 177.0,655.7 C177.2,654.7 177.4,653.7 177.6,652.7 C177.7,651.7 177.9,650.7 178.1,649.7 C178.3,648.7 178.5,647.7 178.7,646.7 C178.9,645.7 179.1,644.7 179.3,643.7 C179.5,642.7 179.7,641.8 179.9,640.8 C180.1,639.8 180.3,638.8 180.5,637.8 C180.7,636.8 180.9,635.9 181.1,634.9 C181.4,633.9 181.6,632.9 181.8,631.9 C182.0,631.0 182.2,630.0 182.5,629.0 C182.7,628.1 182.9,627.1 183.1,626.1 C183.4,625.1 183.6,624.2 183.8,623.2 C184.1,622.2 184.3,621.3 184.5,620.3 C184.8,619.4 185.0,618.4 185.2,617.4 C185.5,616.5 185.7,615.5 186.0,614.6 C186.2,613.6 186.5,612.6 186.7,611.7 C187.0,610.7 187.2,609.8 187.5,608.8 C187.7,607.9 188.0,606.9 188.3,606.0 C188.5,605.0 188.8,604.1 189.0,603.1 C189.3,602.2 189.6,601.2 189.8,600.3 C190.1,599.3 190.4,598.4 190.6,597.4 C190.9,596.5 191.2,595.5 191.5,594.6 C191.7,593.6 192.0,592.7 192.3,591.7 C192.6,590.8 192.9,589.9 193.1,588.9 C193.4,588.0 193.7,587.0 194.0,586.1 C194.3,585.1 194.6,584.2 194.9,583.2 C195.2,582.3 195.4,581.4 195.7,580.4 C196.0,579.5 196.3,578.5 196.6,577.6 C196.9,576.6 197.2,575.7 197.5,574.8 C197.8,573.8 198.1,572.9 198.4,571.9 C198.7,571.0 199.0,570.0 199.3,569.1 C199.7,568.1 200.0,567.2 200.3,566.3 C200.6,565.3 200.9,564.4 201.2,563.4 C201.5,562.5 201.8,561.5 202.2,560.6 C202.5,559.6 202.8,558.7 203.1,557.7 C203.4,556.8 203.8,555.8 204.1,554.9 C204.4,553.9 204.7,553.0 205.1,552.0 C205.4,551.1 205.7,550.1 206.0,549.2 C206.4,548.2 206.7,547.3 207.0,546.3 C207.4,545.4 207.7,544.4 208.0,543.5 C208.4,542.5 208.7,541.5 209.0,540.6 C209.4,539.6 209.7,538.7 210.0,537.7 C210.4,536.7 210.7,535.8 211.1,534.8 C211.4,533.9 211.8,532.9 212.1,531.9 C212.5,531.0 212.8,530.0 213.2,529.0 C213.5,528.1 213.9,527.1 214.2,526.1 C214.6,525.2 214.9,524.2 215.3,523.3 C215.6,522.3 216.0,521.3 216.4,520.4 C216.7,519.4 217.1,518.4 217.5,517.5 C217.8,516.5 218.2,515.5 218.6,514.6 C218.9,513.6 219.3,512.7 219.7,511.7 C220.1,510.7 220.5,509.8 220.9,508.8 C221.2,507.9 221.6,506.9 222.0,506.0 C222.4,505.0 222.8,504.1 223.2,503.1 C223.6,502.2 224.0,501.2 224.4,500.3 C224.8,499.3 225.2,498.4 225.6,497.4 C226.0,496.5 226.5,495.5 226.9,494.6 C227.3,493.7 227.7,492.7 228.1,491.8 C228.6,490.8 229.0,489.9 229.4,489.0 C229.9,488.0 230.3,487.1 230.7,486.2 C231.2,485.3 231.6,484.3 232.1,483.4 C232.5,482.5 233.0,481.6 233.4,480.7 C233.9,479.8 234.4,478.8 234.8,477.9 C235.3,477.0 235.8,476.1 236.3,475.2 C236.7,474.3 237.2,473.4 237.7,472.5 C238.2,471.6 238.7,470.8 239.2,469.9 C239.7,469.0 240.2,468.1 240.7,467.2 C241.2,466.3 241.7,465.5 242.2,464.6 C242.7,463.7 243.2,462.9 243.8,462.0 C244.3,461.2 244.8,460.3 245.4,459.4 C245.9,458.6 246.5,457.7 247.0,456.9 C247.6,456.1 248.1,455.2 248.7,454.4 C249.2,453.6 249.8,452.7 250.4,451.9 C250.9,451.1 251.5,450.3 252.1,449.5 C252.7,448.7 253.3,447.9 253.9,447.1 C254.5,446.3 255.1,445.5 255.7,444.7 C256.3,443.9 256.9,443.1 257.5,442.3 C258.1,441.6 258.8,440.8 259.4,440.0 C260.0,439.3 260.7,438.5 261.3,437.8 C262.0,437.0 262.6,436.3 263.3,435.5 C264.0,434.8 264.6,434.1 265.3,433.3 C266.0,432.6 266.7,431.9 267.4,431.2 C268.1,430.5 268.7,429.8 269.5,429.1 C270.2,428.4 270.9,427.7 271.6,427.0 C272.3,426.3 273.0,425.7 273.8,425.0 C274.5,424.3 275.2,423.7 276.0,423.0 C276.7,422.4 277.5,421.7 278.2,421.1 C279.0,420.4 279.7,419.8 280.5,419.2 C281.3,418.6 282.1,417.9 282.8,417.3 C283.6,416.7 284.4,416.1 285.2,415.5 C286.0,414.9 286.8,414.4 287.6,413.8 C288.4,413.2 289.2,412.6 290.0,412.1 C290.9,411.5 291.7,410.9 292.5,410.4 C293.3,409.9 294.2,409.3 295.0,408.8 C295.8,408.2 296.7,407.7 297.5,407.2 C298.4,406.7 299.2,406.2 300.1,405.7 C300.9,405.2 301.8,404.7 302.7,404.2 C303.5,403.7 304.4,403.2 305.3,402.8 C306.2,402.3 307.1,401.8 307.9,401.4 C308.8,400.9 309.7,400.5 310.6,400.0 C311.5,399.6 312.4,399.2 313.3,398.7 C314.2,398.3 315.1,397.9 316.0,397.5 C316.9,397.1 317.8,396.7 318.8,396.3 C319.7,395.9 320.6,395.5 321.5,395.2 C322.5,394.8 323.4,394.4 324.3,394.1 C325.2,393.7 326.2,393.4 327.1,393.0 C328.1,392.7 329.0,392.4 329.9,392.0 C330.9,391.7 331.8,391.4 332.8,391.1 C333.7,390.8 334.7,390.5 335.7,390.2 C336.6,389.9 337.6,389.6 338.5,389.4 C339.5,389.1 340.5,388.8 341.4,388.6 C342.4,388.3 343.4,388.1 344.3,387.9 C345.3,387.6 346.3,387.4 347.3,387.2 C348.2,387.0 349.2,386.7 350.2,386.5 C351.2,386.3 352.2,386.2 353.2,386.0 C354.1,385.8 355.1,385.6 356.1,385.4 C357.1,385.3 358.1,385.1 359.1,385.0 C360.1,384.8 361.1,384.7 362.1,384.6 C363.1,384.4 364.1,384.3 365.0,384.2 C366.0,384.1 367.0,384.0 368.0,383.9 C369.0,383.8 370.0,383.7 371.0,383.7 C372.0,383.6 373.0,383.5 374.1,383.5 C375.1,383.4 376.1,383.4 377.1,383.3 C378.1,383.3 379.1,383.3 380.1,383.2 C381.1,383.2 382.1,383.2 383.1,383.2 C384.1,383.2 385.1,383.2 386.1,383.2 C387.1,383.3 388.1,383.3 389.1,383.3 C390.1,383.4 391.1,383.4 392.1,383.5 C393.1,383.5 394.2,383.6 395.2,383.7 C396.2,383.8 397.2,383.9 398.2,384.0 C399.2,384.1 400.2,384.2 401.2,384.3 C402.2,384.4 403.2,384.5 404.2,384.7 C405.2,384.8 406.2,384.9 407.2,385.1 C408.2,385.2 409.2,385.4 410.2,385.6 C411.2,385.7 412.2,385.9 413.2,386.1 C414.2,386.3 415.2,386.5 416.2,386.7 C417.2,386.8 418.2,387.0 419.2,387.3 C420.2,387.5 421.2,387.7 422.2,387.9 C423.2,388.1 424.2,388.3 425.2,388.5 C426.1,388.7 427.1,389.0 428.1,389.2 C429.1,389.4 430.1,389.7 431.1,389.9 C432.1,390.1 433.1,390.3 434.1,390.6 C435.1,390.8 436.1,391.1 437.1,391.3 C438.1,391.5 439.1,391.8 440.1,392.0 C441.1,392.2 442.1,392.5 443.1,392.7 C444.0,392.9 445.0,393.2 446.0,393.4 C447.0,393.6 448.0,393.9 449.0,394.1 C450.0,394.3 451.0,394.5 452.0,394.8 C453.0,395.0 454.0,395.2 455.0,395.4 C456.0,395.6 457.0,395.8 458.0,396.0 C458.9,396.2 459.9,396.4 460.9,396.6 C461.9,396.8 462.9,397.0 463.9,397.2 C464.9,397.4 465.9,397.6 466.9,397.7 C467.9,397.9 468.9,398.1 469.9,398.2 C470.9,398.4 471.9,398.6 472.9,398.7 C473.9,398.9 474.9,399.0 475.9,399.2 C476.9,399.3 477.9,399.5 478.8,399.6 C479.8,399.8 480.8,399.9 481.8,400.0 C482.8,400.2 483.8,400.3 484.8,400.4 C485.8,400.6 486.8,400.7 487.8,400.8 C488.8,400.9 489.8,401.1 490.8,401.2 C491.8,401.3 492.8,401.4 493.8,401.5 C494.8,401.7 495.8,401.8 496.8,401.9 C497.8,402.0 498.8,402.1 499.8,402.2 C500.8,402.3 501.8,402.4 502.8,402.5 C503.8,402.7 504.8,402.8 505.7,402.9 C506.7,403.0 507.7,403.1 508.7,403.2 C509.7,403.3 510.7,403.4 511.7,403.5 C512.7,403.6 513.7,403.7 514.7,403.8 C515.7,403.9 516.7,404.0 517.7,404.1 C518.7,404.2 519.7,404.3 520.7,404.4 C521.7,404.5 522.7,404.6 523.7,404.7 C524.7,404.8 525.7,404.9 526.7,405.0 C527.7,405.2 528.6,405.3 529.6,405.4 C530.6,405.5 531.6,405.6 532.6,405.7 C533.6,405.8 534.6,405.9 535.6,406.0 C536.6,406.2 537.6,406.3 538.6,406.4 C539.6,406.5 540.6,406.7 541.6,406.8 C542.6,406.9 543.6,407.0 544.6,407.2 C545.5,407.3 546.5,407.4 547.5,407.6 C548.5,407.7 549.5,407.8 550.5,408.0 C551.5,408.1 552.5,408.2 553.5,408.4 C554.5,408.5 555.5,408.7 556.5,408.8 C557.5,409.0 558.4,409.1 559.4,409.3 C560.4,409.4 561.4,409.6 562.4,409.7 C563.4,409.9 564.4,410.0 565.4,410.2 C566.4,410.4 567.4,410.5 568.4,410.7 C569.4,410.8 570.3,411.0 571.3,411.2 C572.3,411.3 573.3,411.5 574.3,411.7 C575.3,411.8 576.3,412.0 577.3,412.2 C578.3,412.4 579.2,412.5 580.2,412.7 C581.2,412.9 582.2,413.1 583.2,413.3 C584.2,413.4 585.2,413.6 586.2,413.8 C587.2,414.0 588.1,414.2 589.1,414.3 C590.1,414.5 591.1,414.7 592.1,414.9 C593.1,415.1 594.1,415.3 595.1,415.5 C596.1,415.7 597.0,415.9 598.0,416.1 C599.0,416.3 600.0,416.5 601.0,416.6 C602.0,416.8 603.0,417.0 603.9,417.2 C604.9,417.4 605.9,417.6 606.9,417.8 C607.9,418.0 608.9,418.2 609.9,418.5 C610.9,418.7 611.8,418.9 612.8,419.1 C613.8,419.3 614.8,419.5 615.8,419.7 C616.8,419.9 617.8,420.1 618.7,420.3 C619.7,420.5 620.7,420.7 621.7,421.0 C622.7,421.2 623.7,421.4 624.7,421.6 C625.6,421.8 626.6,422.0 627.6,422.2 C628.6,422.5 629.6,422.7 630.6,422.9 C631.5,423.1 632.5,423.3 633.5,423.6 C634.5,423.8 635.5,424.0 636.5,424.2 C637.4,424.4 638.4,424.7 639.4,424.9 C640.4,425.1 641.4,425.3 642.4,425.6 C643.3,425.8 644.3,426.0 645.3,426.2 C646.3,426.5 647.3,426.7 648.3,426.9 C649.2,427.1 650.2,427.4 651.2,427.6 C652.2,427.8 653.2,428.0 654.2,428.3 C655.1,428.5 656.1,428.7 657.1,429.0 C658.1,429.2 659.1,429.4 660.0,429.6 C661.0,429.9 662.0,430.1 663.0,430.3 C664.0,430.6 664.9,430.8 665.9,431.0 C666.9,431.3 667.9,431.5 668.9,431.7 C669.9,431.9 670.8,432.2 671.8,432.4 C672.8,432.6 673.8,432.9 674.8,433.1 C675.7,433.3 676.7,433.6 677.7,433.8 C678.7,434.0 679.7,434.2 680.6,434.5 C681.6,434.7 682.6,434.9 683.6,435.2 C684.6,435.4 685.5,435.6 686.5,435.9 C687.5,436.1 688.5,436.3 689.5,436.5 C690.4,436.8 691.4,437.0 692.4,437.2 C693.4,437.5 694.4,437.7 695.3,437.9 C696.3,438.1 697.3,438.4 698.3,438.6 C699.3,438.8 700.2,439.0 701.2,439.2 C702.2,439.5 703.2,439.7 704.2,439.9 C705.1,440.1 706.1,440.4 707.1,440.6 C708.1,440.8 709.1,441.0 710.1,441.2 C711.0,441.4 712.0,441.7 713.0,441.9 C714.0,442.1 715.0,442.3 715.9,442.5 C716.9,442.7 717.9,442.9 718.9,443.2 C719.9,443.4 720.8,443.6 721.8,443.8 C722.8,444.0 723.8,444.2 724.8,444.4 C725.8,444.6 726.7,444.8 727.7,445.0 C728.7,445.2 729.7,445.4 730.7,445.6 C731.6,445.8 732.6,446.0 733.6,446.2 C734.6,446.4 735.6,446.6 736.6,446.8 C737.5,447.0 738.5,447.2 739.5,447.4 C740.5,447.5 741.5,447.7 742.5,447.9 C743.4,448.1 744.4,448.3 745.4,448.5 C746.4,448.6 747.4,448.8 748.4,449.0 C749.4,449.2 750.3,449.4 751.3,449.5 C752.3,449.7 753.3,449.9 754.3,450.0 C755.3,450.2 756.3,450.4 757.2,450.5 C758.2,450.7 759.2,450.9 760.2,451.0 C761.2,451.2 762.2,451.3 763.2,451.5 C764.1,451.6 765.1,451.8 766.1,451.9 C767.1,452.1 768.1,452.2 769.1,452.4 C770.1,452.5 771.1,452.7 772.1,452.8 C773.0,452.9 774.0,453.1 775.0,453.2 C776.0,453.3 777.0,453.5 778.0,453.6 C779.0,453.7 780.0,453.9 781.0,454.0 C782.0,454.1 782.9,454.2 783.9,454.3 C784.9,454.4 785.9,454.6 786.9,454.7 C787.9,454.8 788.9,454.9 789.9,455.0 C790.9,455.1 791.9,455.2 792.9,455.3 C793.9,455.4 794.9,455.5 795.9,455.6 C796.9,455.7 797.9,455.7 798.8,455.8 C799.8,455.9 800.8,456.0 801.8,456.1 C802.8,456.1 803.8,456.2 804.8,456.3 C805.8,456.3 806.8,456.4 807.8,456.5 C808.8,456.5 809.8,456.6 810.8,456.7 C811.8,456.7 812.8,456.8 813.8,456.8 C814.8,456.8 815.8,456.9 816.8,456.9 C817.8,457.0 818.8,457.0 819.8,457.0 C820.8,457.1 821.8,457.1 822.8,457.1 C823.8,457.1 824.9,457.2 825.9,457.2 C826.9,457.2 827.9,457.2 828.9,457.2 C829.9,457.2 830.9,457.2 831.9,457.2 C832.9,457.2 833.9,457.2 834.9,457.2 C835.9,457.2 836.9,457.2 837.9,457.2 C838.9,457.2 840.0,457.1 841.0,457.1 C842.0,457.1 843.0,457.1 844.0,457.1 C845.0,457.0 846.0,457.0 847.0,457.0 C848.0,456.9 849.0,456.9 850.1,456.9 C851.1,456.8 852.1,456.8 853.1,456.8 C854.1,456.7 855.1,456.7 856.1,456.7 C857.1,456.6 858.1,456.6 859.2,456.5 C860.2,456.5 861.2,456.4 862.2,456.4 C863.2,456.4 864.2,456.3 865.2,456.3 C866.3,456.2 867.3,456.2 868.3,456.1 C869.3,456.1 870.3,456.0 871.3,456.0 C872.3,455.9 873.3,455.9 874.4,455.8 C875.4,455.8 876.4,455.7 877.4,455.7 C878.4,455.6 879.4,455.6 880.4,455.5 C881.5,455.5 882.5,455.4 883.5,455.4 C884.5,455.4 885.5,455.3 886.5,455.3 C887.5,455.2 888.5,455.2 889.6,455.1 C890.6,455.1 891.6,455.1 892.6,455.0 C893.6,455.0 894.6,454.9 895.6,454.9 C896.7,454.9 897.7,454.8 898.7,454.8 C899.7,454.8 900.7,454.7 901.7,454.7 C902.7,454.7 903.7,454.7 904.7,454.7 C905.8,454.6 906.8,454.6 907.8,454.6 C908.8,454.6 909.8,454.6 910.8,454.6 C911.8,454.5 912.8,454.5 913.8,454.5 C914.9,454.5 915.9,454.5 916.9,454.5 C917.9,454.5 918.9,454.6 919.9,454.6 C920.9,454.6 921.9,454.6 922.9,454.6 C923.9,454.6 924.9,454.7 925.9,454.7 C926.9,454.7 927.9,454.7 929.0,454.8 C930.0,454.8 931.0,454.9 932.0,454.9 C933.0,455.0 934.0,455.0 935.0,455.1 C936.0,455.1 937.0,455.2 938.0,455.3 C939.0,455.3 940.0,455.4 941.0,455.5 C942.0,455.6 943.0,455.6 944.0,455.7 C945.0,455.8 946.0,455.9 947.0,456.0 C948.0,456.1 949.0,456.2 950.0,456.3 C951.0,456.4 952.0,456.6 953.0,456.7 C954.0,456.8 955.0,456.9 955.9,457.0 C956.9,457.2 957.9,457.3 958.9,457.4 C959.9,457.5 960.9,457.7 961.9,457.8 C962.9,457.9 963.9,458.1 964.9,458.2 C965.9,458.3 966.9,458.5 967.9,458.6 C968.9,458.7 969.9,458.9 970.9,459.0 C971.9,459.1 972.9,459.3 973.9,459.4 C974.9,459.5 975.8,459.7 976.8,459.8 C977.8,459.9 978.8,460.0 979.8,460.2 C980.8,460.3 981.8,460.4 982.8,460.5 C983.8,460.6 984.8,460.8 985.8,460.9 C986.8,461.0 987.8,461.1 988.8,461.2 C989.8,461.3 990.8,461.4 991.8,461.5 C992.8,461.5 993.8,461.6 994.8,461.7 C995.8,461.8 996.8,461.9 997.8,461.9 C998.9,462.0 999.9,462.0 1000.9,462.1 C1001.9,462.1 1002.9,462.2 1003.9,462.2 C1004.9,462.2 1005.9,462.3 1006.9,462.3 C1007.9,462.3 1009.5,462.3 1010.0,462.3 L1010,700 L172,700 Z" fill="rgba(128,0,128,0.10)" stroke="rgba(128,0,128,0.10)" stroke-width="2.8"/>
<path d="M202.7,679.3 C202.8,678.8 203.1,677.4 203.3,676.5 C203.5,675.6 203.7,674.6 203.9,673.7 C204.0,672.7 204.2,671.8 204.4,670.9 C204.7,669.9 204.9,669.0 205.1,668.0 C205.3,667.1 205.5,666.1 205.7,665.2 C205.9,664.2 206.2,663.3 206.4,662.4 C206.6,661.4 206.9,660.5 207.1,659.5 C207.3,658.6 207.6,657.6 207.8,656.7 C208.1,655.7 208.3,654.8 208.6,653.8 C208.9,652.9 209.1,651.9 209.4,651.0 C209.7,650.0 209.9,649.1 210.2,648.1 C210.5,647.2 210.8,646.2 211.1,645.3 C211.3,644.3 211.6,643.4 211.9,642.4 C212.2,641.5 212.5,640.5 212.8,639.6 C213.1,638.6 213.5,637.7 213.8,636.7 C214.1,635.8 214.4,634.8 214.7,633.9 C215.1,632.9 215.4,632.0 215.7,631.1 C216.1,630.1 216.4,629.2 216.7,628.2 C217.1,627.3 217.4,626.3 217.8,625.4 C218.1,624.4 218.5,623.5 218.9,622.6 C219.2,621.6 219.6,620.7 220.0,619.7 C220.3,618.8 220.7,617.9 221.1,616.9 C221.5,616.0 221.8,615.1 222.2,614.1 C222.6,613.2 223.0,612.3 223.4,611.3 C223.8,610.4 224.2,609.5 224.6,608.5 C225.1,607.6 225.5,606.7 225.9,605.8 C226.3,604.8 226.7,603.9 227.2,603.0 C227.6,602.1 228.0,601.2 228.5,600.2 C228.9,599.3 229.3,598.4 229.8,597.5 C230.2,596.6 230.7,595.7 231.1,594.8 C231.6,593.9 232.1,592.9 232.5,592.0 C233.0,591.1 233.5,590.2 233.9,589.3 C234.4,588.4 234.9,587.5 235.4,586.6 C235.9,585.8 236.4,584.9 236.9,584.0 C237.4,583.1 237.9,582.2 238.4,581.3 C238.9,580.4 239.4,579.5 239.9,578.7 C240.4,577.8 240.9,576.9 241.5,576.0 C242.0,575.2 242.5,574.3 243.1,573.4 C243.6,572.6 244.1,571.7 244.7,570.8 C245.2,570.0 245.8,569.1 246.3,568.3 C246.9,567.4 247.4,566.6 248.0,565.7 C248.6,564.9 249.1,564.0 249.7,563.2 C250.3,562.4 250.9,561.5 251.4,560.7 C252.0,559.8 252.6,559.0 253.2,558.2 C253.8,557.4 254.4,556.5 255.0,555.7 C255.6,554.9 256.2,554.1 256.8,553.3 C257.4,552.5 258.1,551.7 258.7,550.9 C259.3,550.1 259.9,549.3 260.6,548.5 C261.2,547.7 261.8,546.9 262.5,546.1 C263.1,545.3 263.8,544.6 264.4,543.8 C265.1,543.0 265.7,542.2 266.4,541.5 C267.0,540.7 267.7,539.9 268.4,539.2 C269.1,538.4 269.7,537.7 270.4,536.9 C271.1,536.2 271.8,535.4 272.5,534.7 C273.2,534.0 273.9,533.2 274.6,532.5 C275.3,531.8 276.0,531.0 276.7,530.3 C277.4,529.6 278.1,528.9 278.8,528.2 C279.5,527.5 280.3,526.8 281.0,526.1 C281.7,525.4 282.5,524.7 283.2,524.0 C284.0,523.3 284.7,522.7 285.5,522.0 C286.2,521.3 287.0,520.6 287.7,520.0 C288.5,519.3 289.2,518.7 290.0,518.0 C290.8,517.4 291.6,516.7 292.3,516.1 C293.1,515.4 293.9,514.8 294.7,514.2 C295.5,513.5 296.3,512.9 297.1,512.3 C297.9,511.7 298.7,511.1 299.5,510.5 C300.3,509.9 301.1,509.3 302.0,508.7 C302.8,508.1 303.6,507.5 304.4,506.9 C305.3,506.4 306.1,505.8 306.9,505.2 C307.8,504.7 308.6,504.1 309.5,503.6 C310.3,503.0 311.2,502.5 312.0,501.9 C312.9,501.4 313.7,500.9 314.6,500.3 C315.5,499.8 316.3,499.3 317.2,498.8 C318.1,498.3 319.0,497.8 319.8,497.3 C320.7,496.8 321.6,496.3 322.5,495.9 C323.4,495.4 324.3,494.9 325.2,494.5 C326.1,494.0 327.0,493.5 327.9,493.1 C328.8,492.6 329.7,492.2 330.6,491.8 C331.5,491.4 332.4,490.9 333.3,490.5 C334.2,490.1 335.2,489.7 336.1,489.3 C337.0,488.9 337.9,488.5 338.8,488.1 C339.8,487.8 340.7,487.4 341.6,487.0 C342.6,486.7 343.5,486.3 344.4,486.0 C345.4,485.6 346.3,485.3 347.3,485.0 C348.2,484.6 349.1,484.3 350.1,484.0 C351.0,483.7 352.0,483.4 352.9,483.1 C353.9,482.8 354.8,482.5 355.8,482.3 C356.7,482.0 357.7,481.7 358.7,481.5 C359.6,481.2 360.6,481.0 361.5,480.7 C362.5,480.5 363.5,480.3 364.4,480.1 C365.4,479.9 366.4,479.7 367.3,479.5 C368.3,479.3 369.3,479.1 370.2,478.9 C371.2,478.7 372.2,478.6 373.2,478.4 C374.1,478.3 375.1,478.1 376.1,478.0 C377.0,477.9 378.0,477.7 379.0,477.6 C380.0,477.5 381.0,477.4 381.9,477.3 C382.9,477.2 383.9,477.1 384.9,477.1 C385.8,477.0 386.8,476.9 387.8,476.9 C388.8,476.9 389.8,476.8 390.7,476.8 C391.7,476.8 392.7,476.7 393.7,476.7 C394.7,476.7 395.6,476.7 396.6,476.8 C397.6,476.8 398.6,476.8 399.6,476.8 C400.5,476.9 401.5,476.9 402.5,477.0 C403.5,477.0 404.5,477.1 405.5,477.1 C406.4,477.2 407.4,477.3 408.4,477.4 C409.4,477.5 410.4,477.6 411.4,477.7 C412.3,477.8 413.3,477.9 414.3,478.0 C415.3,478.1 416.3,478.3 417.3,478.4 C418.2,478.5 419.2,478.7 420.2,478.8 C421.2,479.0 422.2,479.1 423.2,479.3 C424.2,479.4 425.1,479.6 426.1,479.8 C427.1,480.0 428.1,480.2 429.1,480.3 C430.1,480.5 431.0,480.7 432.0,480.9 C433.0,481.1 434.0,481.3 435.0,481.5 C436.0,481.8 437.0,482.0 437.9,482.2 C438.9,482.4 439.9,482.6 440.9,482.9 C441.9,483.1 442.9,483.3 443.9,483.6 C444.8,483.8 445.8,484.1 446.8,484.3 C447.8,484.6 448.8,484.8 449.8,485.1 C450.7,485.3 451.7,485.6 452.7,485.8 C453.7,486.1 454.7,486.4 455.7,486.6 C456.6,486.9 457.6,487.2 458.6,487.5 C459.6,487.7 460.6,488.0 461.6,488.3 C462.5,488.6 463.5,488.8 464.5,489.1 C465.5,489.4 466.5,489.7 467.5,490.0 C468.4,490.3 469.4,490.5 470.4,490.8 C471.4,491.1 472.4,491.4 473.4,491.7 C474.3,492.0 475.3,492.3 476.3,492.6 C477.3,492.9 478.3,493.2 479.2,493.5 C480.2,493.7 481.2,494.0 482.2,494.3 C483.2,494.6 484.1,494.9 485.1,495.2 C486.1,495.5 487.1,495.8 488.0,496.1 C489.0,496.4 490.0,496.7 491.0,497.0 C492.0,497.3 492.9,497.5 493.9,497.8 C494.9,498.1 495.9,498.4 496.8,498.7 C497.8,499.0 498.8,499.3 499.8,499.6 C500.7,499.9 501.7,500.2 502.7,500.5 C503.7,500.7 504.6,501.0 505.6,501.3 C506.6,501.6 507.6,501.9 508.5,502.2 C509.5,502.5 510.5,502.8 511.5,503.1 C512.4,503.3 513.4,503.6 514.4,503.9 C515.3,504.2 516.3,504.5 517.3,504.8 C518.3,505.1 519.2,505.4 520.2,505.7 C521.2,505.9 522.1,506.2 523.1,506.5 C524.1,506.8 525.1,507.1 526.0,507.4 C527.0,507.7 528.0,507.9 528.9,508.2 C529.9,508.5 530.9,508.8 531.9,509.1 C532.8,509.4 533.8,509.7 534.8,509.9 C535.7,510.2 536.7,510.5 537.7,510.8 C538.6,511.1 539.6,511.4 540.6,511.6 C541.6,511.9 542.5,512.2 543.5,512.5 C544.5,512.8 545.4,513.0 546.4,513.3 C547.4,513.6 548.3,513.9 549.3,514.2 C550.3,514.4 551.2,514.7 552.2,515.0 C553.2,515.3 554.1,515.6 555.1,515.8 C556.1,516.1 557.0,516.4 558.0,516.7 C559.0,516.9 559.9,517.2 560.9,517.5 C561.9,517.8 562.9,518.1 563.8,518.3 C564.8,518.6 565.8,518.9 566.7,519.2 C567.7,519.4 568.7,519.7 569.6,520.0 C570.6,520.2 571.6,520.5 572.5,520.8 C573.5,521.1 574.5,521.3 575.4,521.6 C576.4,521.9 577.4,522.1 578.3,522.4 C579.3,522.7 580.3,522.9 581.2,523.2 C582.2,523.5 583.2,523.8 584.1,524.0 C585.1,524.3 586.1,524.6 587.0,524.8 C588.0,525.1 589.0,525.4 589.9,525.6 C590.9,525.9 591.9,526.1 592.8,526.4 C593.8,526.7 594.8,526.9 595.7,527.2 C596.7,527.5 597.7,527.7 598.6,528.0 C599.6,528.2 600.6,528.5 601.5,528.8 C602.5,529.0 603.5,529.3 604.4,529.5 C605.4,529.8 606.4,530.0 607.3,530.3 C608.3,530.6 609.3,530.8 610.3,531.1 C611.2,531.3 612.2,531.6 613.2,531.8 C614.1,532.1 615.1,532.3 616.1,532.6 C617.0,532.8 618.0,533.1 619.0,533.3 C619.9,533.6 620.9,533.8 621.9,534.1 C622.8,534.3 623.8,534.6 624.8,534.8 C625.7,535.1 626.7,535.3 627.7,535.6 C628.7,535.8 629.6,536.1 630.6,536.3 C631.6,536.5 632.5,536.8 633.5,537.0 C634.5,537.3 635.4,537.5 636.4,537.7 C637.4,538.0 638.4,538.2 639.3,538.5 C640.3,538.7 641.3,538.9 642.2,539.2 C643.2,539.4 644.2,539.6 645.2,539.9 C646.1,540.1 647.1,540.3 648.1,540.6 C649.0,540.8 650.0,541.0 651.0,541.3 C652.0,541.5 652.9,541.7 653.9,542.0 C654.9,542.2 655.9,542.4 656.8,542.6 C657.8,542.9 658.8,543.1 659.7,543.3 C660.7,543.5 661.7,543.8 662.7,544.0 C663.6,544.2 664.6,544.4 665.6,544.6 C666.6,544.9 667.5,545.1 668.5,545.3 C669.5,545.5 670.5,545.7 671.5,546.0 C672.4,546.2 673.4,546.4 674.4,546.6 C675.4,546.8 676.3,547.0 677.3,547.2 C678.3,547.4 679.3,547.7 680.2,547.9 C681.2,548.1 682.2,548.3 683.2,548.5 C684.2,548.7 685.1,548.9 686.1,549.1 C687.1,549.3 688.1,549.5 689.1,549.7 C690.0,549.9 691.0,550.1 692.0,550.3 C693.0,550.5 694.0,550.7 694.9,550.9 C695.9,551.1 696.9,551.3 697.9,551.5 C698.9,551.7 699.9,551.9 700.8,552.1 C701.8,552.3 702.8,552.5 703.8,552.7 C704.8,552.8 705.8,553.0 706.8,553.2 C707.7,553.4 708.7,553.6 709.7,553.8 C710.7,554.0 711.7,554.2 712.7,554.3 C713.7,554.5 714.6,554.7 715.6,554.9 C716.6,555.1 717.6,555.2 718.6,555.4 C719.6,555.6 720.6,555.8 721.6,555.9 C722.6,556.1 723.5,556.3 724.5,556.5 C725.5,556.6 726.5,556.8 727.5,557.0 C728.5,557.1 729.5,557.3 730.5,557.5 C731.5,557.6 732.5,557.8 733.5,558.0 C734.5,558.1 735.4,558.3 736.4,558.5 C737.4,558.6 738.4,558.8 739.4,558.9 C740.4,559.1 741.4,559.3 742.4,559.4 C743.4,559.6 744.4,559.7 745.4,559.9 C746.4,560.0 747.4,560.2 748.4,560.4 C749.4,560.5 750.4,560.7 751.4,560.8 C752.4,561.0 753.4,561.1 754.4,561.3 C755.4,561.4 756.4,561.6 757.4,561.7 C758.4,561.8 759.4,562.0 760.4,562.1 C761.4,562.3 762.4,562.4 763.4,562.6 C764.4,562.7 765.4,562.9 766.4,563.0 C767.4,563.1 768.4,563.3 769.4,563.4 C770.4,563.5 771.4,563.7 772.4,563.8 C773.4,564.0 774.4,564.1 775.4,564.2 C776.4,564.4 777.4,564.5 778.4,564.6 C779.4,564.8 780.4,564.9 781.4,565.0 C782.4,565.2 783.4,565.3 784.4,565.4 C785.4,565.6 786.4,565.7 787.4,565.8 C788.4,565.9 789.4,566.1 790.4,566.2 C791.4,566.3 792.4,566.5 793.4,566.6 C794.4,566.7 795.4,566.8 796.4,567.0 C797.4,567.1 798.5,567.2 799.5,567.3 C800.5,567.4 801.5,567.6 802.5,567.7 C803.5,567.8 804.5,567.9 805.5,568.1 C806.5,568.2 807.5,568.3 808.5,568.4 C809.5,568.5 810.5,568.7 811.5,568.8 C812.5,568.9 813.5,569.0 814.5,569.1 C815.5,569.2 816.5,569.4 817.5,569.5 C818.5,569.6 819.6,569.7 820.6,569.8 C821.6,569.9 822.6,570.1 823.6,570.2 C824.6,570.3 825.6,570.4 826.6,570.5 C827.6,570.6 828.6,570.7 829.6,570.8 C830.6,571.0 831.6,571.1 832.6,571.2 C833.6,571.3 834.6,571.4 835.6,571.5 C836.6,571.6 837.6,571.7 838.6,571.8 C839.7,572.0 840.7,572.1 841.7,572.2 C842.7,572.3 843.7,572.4 844.7,572.5 C845.7,572.6 846.7,572.7 847.7,572.8 C848.7,572.9 849.7,573.1 850.7,573.2 C851.7,573.3 852.7,573.4 853.7,573.5 C854.7,573.6 855.7,573.7 856.7,573.8 C857.7,573.9 858.7,574.0 859.7,574.1 C860.7,574.2 861.7,574.3 862.7,574.5 C863.7,574.6 864.7,574.7 865.7,574.8 C866.7,574.9 867.7,575.0 868.7,575.1 C869.7,575.2 870.7,575.3 871.7,575.4 C872.7,575.5 873.7,575.6 874.7,575.7 C875.7,575.8 876.7,576.0 877.7,576.1 C878.7,576.2 879.7,576.3 880.7,576.4 C881.7,576.5 882.7,576.6 883.7,576.7 C884.7,576.8 885.7,576.9 886.7,577.0 C887.7,577.1 888.7,577.2 889.7,577.3 C890.7,577.4 891.7,577.6 892.7,577.7 C893.7,577.8 894.7,577.9 895.7,578.0 C896.7,578.1 897.7,578.2 898.7,578.3 C899.7,578.4 900.7,578.5 901.7,578.6 C902.7,578.7 903.7,578.8 904.7,578.9 C905.7,579.0 906.7,579.1 907.7,579.2 C908.7,579.3 909.6,579.4 910.6,579.5 C911.6,579.6 912.6,579.7 913.6,579.8 C914.6,579.9 915.6,580.0 916.6,580.1 C917.6,580.2 918.6,580.3 919.6,580.4 C920.6,580.5 921.6,580.6 922.6,580.6 C923.6,580.7 924.6,580.8 925.6,580.9 C926.6,581.0 927.6,581.1 928.6,581.2 C929.6,581.2 930.6,581.3 931.6,581.4 C932.5,581.5 933.5,581.6 934.5,581.6 C935.5,581.7 936.5,581.8 937.5,581.9 C938.5,581.9 939.5,582.0 940.5,582.1 C941.5,582.2 942.5,582.2 943.5,582.3 C944.5,582.4 945.5,582.4 946.5,582.5 C947.5,582.5 948.5,582.6 949.5,582.7 C950.5,582.7 951.5,582.8 952.5,582.8 C953.5,582.9 954.5,582.9 955.5,583.0 C956.5,583.0 957.5,583.1 958.5,583.1 C959.5,583.2 960.5,583.2 961.5,583.2 C962.5,583.3 963.5,583.3 964.5,583.3 C965.5,583.4 966.5,583.4 967.5,583.4 C968.5,583.4 969.5,583.5 970.5,583.5 C971.5,583.5 972.6,583.5 973.6,583.5 C974.6,583.6 975.6,583.6 976.6,583.6 C977.6,583.6 978.6,583.6 979.6,583.6 C980.6,583.6 981.6,583.6 982.6,583.6 C983.6,583.6 984.6,583.6 985.7,583.6 C986.7,583.5 987.7,583.5 988.7,583.5 C989.7,583.5 990.7,583.5 991.7,583.4 C992.7,583.4 993.8,583.4 994.8,583.4 C995.8,583.3 996.8,583.3 997.8,583.2 C998.8,583.2 999.8,583.1 1000.9,583.1 C1001.9,583.0 1002.9,583.0 1003.9,582.9 C1004.9,582.9 1006.0,582.8 1007.0,582.8 C1008.0,582.7 1009.5,582.6 1010.0,582.5 L1010,700 L203,700 Z" fill="rgba(128,0,128,0.10)" stroke="rgba(128,0,128,0.10)" stroke-width="2.8"/>
<line x1="136.3" y1="19.2" x2="136.3" y2="653.3" stroke="rgba(176,176,176,0.28)" stroke-width="2"/>
<line x1="309.3" y1="19.2" x2="309.3" y2="653.3" stroke="rgba(176,176,176,0.28)" stroke-width="2"/>
<line x1="482.4" y1="19.2" x2="482.4" y2="653.3" stroke="rgba(176,176,176,0.28)" stroke-width="2"/>
<line x1="655.4" y1="19.2" x2="655.4" y2="653.3" stroke="rgba(176,176,176,0.28)" stroke-width="2"/>
<line x1="828.5" y1="19.2" x2="828.5" y2="653.3" stroke="rgba(176,176,176,0.28)" stroke-width="2"/>
<line x1="1001.5" y1="19.2" x2="1001.5" y2="653.3" stroke="rgba(176,176,176,0.28)" stroke-width="2"/>
<line x1="135.5" y1="653.5" x2="1001.6" y2="653.5" stroke="rgba(176,176,176,0.28)" stroke-width="2"/>
<line x1="135.5" y1="526.6" x2="1001.6" y2="526.6" stroke="rgba(176,176,176,0.28)" stroke-width="2"/>
<line x1="135.5" y1="399.8" x2="1001.6" y2="399.8" stroke="rgba(176,176,176,0.28)" stroke-width="2"/>
<line x1="135.5" y1="272.9" x2="1001.6" y2="272.9" stroke="rgba(176,176,176,0.28)" stroke-width="2"/>
<line x1="135.5" y1="146.1" x2="1001.6" y2="146.1" stroke="rgba(176,176,176,0.28)" stroke-width="2"/>
<line x1="135.5" y1="19.2" x2="1001.6" y2="19.2" stroke="rgba(176,176,176,0.28)" stroke-width="2"/>
<path d="M365.8,410.2 L382.0,410.2 L373.9,427.2 Z" fill="#808080"/>
<path d="M409.1,436.7 L425.3,436.7 L417.2,453.7 Z" fill="#808080"/>
<path d="M452.3,403.7 L468.5,403.7 L460.4,420.7 Z" fill="#808080"/>
<path d="M495.6,422.0 L511.8,422.0 L503.7,439.0 Z" fill="#808080"/>
<path d="M538.8,407.5 L555.0,407.5 L546.9,424.5 Z" fill="#808080"/>
<path d="M582.1,433.5 L598.3,433.5 L590.2,450.5 Z" fill="#808080"/>
<path d="M625.4,445.5 L641.6,445.5 L633.5,462.5 Z" fill="#808080"/>
<path d="M668.6,414.8 L684.8,414.8 L676.7,431.8 Z" fill="#808080"/>
<path d="M711.9,449.4 L728.1,449.4 L720.0,466.4 Z" fill="#808080"/>
<path d="M798.4,410.5 L814.6,410.5 L806.5,427.5 Z" fill="#808080"/>
<path d="M841.7,424.2 L857.9,424.2 L849.8,441.2 Z" fill="#808080"/>
<path d="M884.9,418.3 L901.1,418.3 L893.0,435.3 Z" fill="#808080"/>
<line x1="367.0" y1="164.6" x2="367.0" y2="242.7" stroke="#000" stroke-width="3.6"/>
<line x1="410.3" y1="308.9" x2="410.3" y2="365.5" stroke="#000" stroke-width="3.6"/>
<line x1="453.5" y1="228.3" x2="453.5" y2="294.3" stroke="#000" stroke-width="3.6"/>
<line x1="496.8" y1="275.2" x2="496.8" y2="342.3" stroke="#000" stroke-width="3.6"/>
<line x1="540.0" y1="347.0" x2="540.0" y2="402.8" stroke="#000" stroke-width="3.6"/>
<line x1="583.3" y1="371.2" x2="583.3" y2="426.2" stroke="#000" stroke-width="3.6"/>
<line x1="626.6" y1="393.2" x2="626.6" y2="453.3" stroke="#000" stroke-width="3.6"/>
<line x1="669.8" y1="436.9" x2="669.8" y2="519.0" stroke="#000" stroke-width="3.6"/>
<line x1="713.1" y1="405.4" x2="713.1" y2="473.8" stroke="#000" stroke-width="3.6"/>
<line x1="756.3" y1="473.8" x2="756.3" y2="547.8" stroke="#000" stroke-width="3.6"/>
<line x1="799.6" y1="416.0" x2="799.6" y2="484.9" stroke="#000" stroke-width="3.6"/>
<line x1="842.9" y1="426.8" x2="842.9" y2="495.3" stroke="#000" stroke-width="3.6"/>
<line x1="886.1" y1="434.6" x2="886.1" y2="561.0" stroke="#000" stroke-width="3.6"/>
<line x1="371.3" y1="173.9" x2="371.3" y2="250.0" stroke="#000" stroke-width="3.6"/>
<line x1="414.6" y1="355.7" x2="414.6" y2="399.0" stroke="#000" stroke-width="3.6"/>
<line x1="457.8" y1="230.0" x2="457.8" y2="298.0" stroke="#000" stroke-width="3.6"/>
<line x1="501.1" y1="276.6" x2="501.1" y2="340.8" stroke="#000" stroke-width="3.6"/>
<line x1="544.4" y1="351.0" x2="544.4" y2="407.0" stroke="#000" stroke-width="3.6"/>
<line x1="587.6" y1="371.2" x2="587.6" y2="425.0" stroke="#000" stroke-width="3.6"/>
<line x1="630.9" y1="401.2" x2="630.9" y2="453.0" stroke="#000" stroke-width="3.6"/>
<line x1="674.1" y1="467.8" x2="674.1" y2="562.8" stroke="#000" stroke-width="3.6"/>
<line x1="717.4" y1="463.2" x2="717.4" y2="533.9" stroke="#000" stroke-width="3.6"/>
<line x1="760.7" y1="473.0" x2="760.7" y2="561.8" stroke="#000" stroke-width="3.6"/>
<line x1="803.9" y1="464.5" x2="803.9" y2="538.8" stroke="#000" stroke-width="3.6"/>
<line x1="847.2" y1="441.5" x2="847.2" y2="506.3" stroke="#000" stroke-width="3.6"/>
<line x1="890.5" y1="412.1" x2="890.5" y2="522.9" stroke="#000" stroke-width="3.6"/>
<path d="M196.2,660.0 C196.5,658.7 196.7,657.0 198.0,652.0 C199.3,647.0 202.0,636.7 204.0,629.7 C206.0,622.7 208.0,615.8 210.0,609.8 C212.0,603.8 213.9,599.1 215.9,593.8 C217.9,588.5 219.6,583.4 221.9,577.8 C224.2,572.1 227.2,565.4 229.9,559.9 C232.6,554.4 235.2,549.4 237.9,544.9 C240.6,540.4 243.6,535.8 245.9,532.9 C248.2,530.0 250.0,528.6 251.8,527.5 C253.6,526.4 255.3,525.8 256.8,526.0 C258.3,526.2 259.7,527.0 260.8,528.5 C261.9,530.0 262.6,531.5 263.2,534.9 C263.8,538.3 264.0,546.6 264.2,549.0" fill="none" stroke="rgba(150,40,150,0.62)" stroke-width="5" stroke-linecap="butt"/>
<path d="M361.7,388.0 C365.3,387.2 376.1,383.8 383.3,383.0 C390.5,382.2 397.8,382.5 405.0,383.3 C412.2,384.1 421.3,386.2 426.6,388.0 C431.9,389.8 435.0,391.7 437.0,394.0 C439.0,396.3 440.2,399.0 438.5,402.0 C436.8,405.0 428.6,410.3 426.6,412.0" fill="none" stroke="rgba(150,40,150,0.62)" stroke-width="5" stroke-linecap="butt"/>
<path d="M467.8,414.8 C473.2,414.3 492.7,412.4 500.2,411.8 C507.7,411.2 509.8,412.1 513.0,411.5 C516.2,410.9 519.2,409.5 519.5,408.5 C519.8,407.5 518.6,406.2 515.0,405.5 C511.4,404.8 500.8,404.6 498.0,404.4" fill="none" stroke="rgba(150,40,150,0.62)" stroke-width="5" stroke-linecap="butt"/>
<path d="M356.0,494.8 C360.7,492.3 374.3,483.1 384.0,479.8 C393.7,476.5 403.7,474.9 414.0,475.2 C424.3,475.5 436.3,478.2 446.0,481.5 C455.7,484.8 465.0,490.2 472.0,495.0 C479.0,499.8 484.2,505.1 488.0,510.0 C491.8,514.9 493.7,522.1 494.8,524.5" fill="none" stroke="rgba(150,40,150,0.62)" stroke-width="5" stroke-linecap="butt"/>
<path d="M480.0,488.6 C488.8,491.1 518.6,499.6 532.9,503.7 C547.2,507.8 556.4,509.9 566.0,513.4 C575.6,516.9 585.0,521.5 590.7,524.7 C596.4,527.9 597.6,529.2 600.3,532.7 C603.0,536.2 605.6,543.4 606.7,545.5" fill="none" stroke="rgba(150,40,150,0.62)" stroke-width="5" stroke-linecap="butt"/>
<path d="M596.4,462.0 C596.5,463.7 597.5,468.2 596.8,472.0 C596.1,475.8 594.9,480.0 592.3,484.8 C589.7,489.6 585.7,495.9 581.2,500.7 C576.7,505.5 570.3,509.2 565.2,513.5 C560.1,517.8 554.4,522.5 550.8,526.3 C547.2,530.1 543.1,535.2 543.6,536.5 C544.1,537.8 549.1,536.3 554.0,534.3 C558.9,532.3 567.4,528.7 573.2,524.7 C579.1,520.7 585.0,514.8 589.1,510.3 C593.2,505.8 596.4,500.7 597.9,497.5 C599.4,494.3 598.7,493.7 597.9,491.2 C597.1,488.7 593.9,483.9 593.1,482.4" fill="none" stroke="rgba(150,40,150,0.62)" stroke-width="5" stroke-linecap="butt"/>
<path d="M602.7,468.7 C605.2,469.4 612.2,471.4 617.7,473.2 C623.2,475.0 629.5,477.3 635.4,479.4 C641.3,481.5 647.3,483.1 653.2,485.6 C659.1,488.1 665.6,491.4 670.9,494.4 C676.2,497.3 680.9,500.1 685.0,503.3 C689.1,506.6 693.0,510.4 695.7,513.9 C698.4,517.4 700.1,521.4 701.0,524.5 C701.9,527.6 701.2,531.2 701.3,532.5" fill="none" stroke="rgba(150,40,150,0.62)" stroke-width="5" stroke-linecap="butt"/>
<path d="M675.0,436.5 C676.3,436.6 681.4,436.4 683.0,437.0 C684.6,437.6 685.5,439.0 684.5,440.0 C683.5,441.0 678.2,442.5 677.0,443.0" fill="none" stroke="rgba(150,40,150,0.62)" stroke-width="5" stroke-linecap="butt"/>
<path d="M693.9,482.0 C696.0,482.7 701.3,484.3 706.3,486.4 C711.3,488.5 718.7,491.7 724.0,494.4 C729.3,497.1 734.1,499.7 738.2,502.4 C742.3,505.1 746.1,507.6 748.8,510.4 C751.4,513.2 753.5,516.6 754.1,519.2 C754.7,521.9 754.5,523.9 752.4,526.3 C750.3,528.7 743.5,532.2 741.7,533.4" fill="none" stroke="rgba(150,40,150,0.62)" stroke-width="5" stroke-linecap="butt"/>
<path d="M796.9,561.9 C798.5,563.0 804.4,566.5 806.7,568.4 C809.1,570.3 810.5,571.7 811.0,573.5 C811.5,575.3 809.5,577.5 810.0,579.0 C810.5,580.5 812.7,582.5 814.2,582.5 C815.7,582.5 818.5,581.0 819.1,579.2 C819.7,577.4 818.2,574.4 817.8,571.7 C817.3,569.0 816.6,564.5 816.4,563.0" fill="none" stroke="rgba(150,40,150,0.62)" stroke-width="5" stroke-linecap="butt"/>
<path d="M859.7,582.5 C861.1,583.9 866.7,591.3 867.8,590.6 C868.9,589.9 866.7,580.3 866.5,578.2" fill="none" stroke="rgba(150,40,150,0.62)" stroke-width="5" stroke-linecap="butt"/>
<path d="M871.6,574.9 C872.9,576.2 877.5,579.3 879.2,582.5 C880.9,585.7 881.5,592.0 881.9,593.9" fill="none" stroke="rgba(150,40,150,0.62)" stroke-width="5" stroke-linecap="butt"/>
<path d="M367.0,192.5 A8.3,8.3 0 0 0 367.0,209.1 Z" fill="#000"/>
<path d="M410.3,327.9 A8.3,8.3 0 0 0 410.3,344.5 Z" fill="#000"/>
<path d="M453.5,252.7 A8.3,8.3 0 0 0 453.5,269.3 Z" fill="#000"/>
<path d="M496.8,296.9 A8.3,8.3 0 0 0 496.8,313.5 Z" fill="#000"/>
<path d="M540.0,364.7 A8.3,8.3 0 0 0 540.0,381.3 Z" fill="#000"/>
<path d="M583.3,388.4 A8.3,8.3 0 0 0 583.3,405.0 Z" fill="#000"/>
<path d="M626.6,414.9 A8.3,8.3 0 0 0 626.6,431.5 Z" fill="#000"/>
<path d="M669.8,466.4 A8.3,8.3 0 0 0 669.8,483.0 Z" fill="#000"/>
<path d="M713.1,430.6 A8.3,8.3 0 0 0 713.1,447.2 Z" fill="#000"/>
<path d="M756.3,502.4 A8.3,8.3 0 0 0 756.3,519.0 Z" fill="#000"/>
<path d="M799.6,441.5 A8.3,8.3 0 0 0 799.6,458.1 Z" fill="#000"/>
<path d="M842.9,451.7 A8.3,8.3 0 0 0 842.9,468.3 Z" fill="#000"/>
<path d="M886.1,497.3 A8.3,8.3 0 0 0 886.1,513.9 Z" fill="#000"/>
<path d="M371.3,204.4 A8.3,8.3 0 0 1 371.3,221.0 Z" fill="#000"/>
<path d="M414.6,379.7 A8.3,8.3 0 0 1 414.6,396.3 Z" fill="#000"/>
<path d="M457.8,256.4 A8.3,8.3 0 0 1 457.8,273.0 Z" fill="#000"/>
<path d="M501.1,299.5 A8.3,8.3 0 0 1 501.1,316.1 Z" fill="#000"/>
<path d="M544.4,370.3 A8.3,8.3 0 0 1 544.4,386.9 Z" fill="#000"/>
<path d="M587.6,389.6 A8.3,8.3 0 0 1 587.6,406.2 Z" fill="#000"/>
<path d="M630.9,418.9 A8.3,8.3 0 0 1 630.9,435.5 Z" fill="#000"/>
<path d="M674.1,469.7 A8.3,8.3 0 0 1 674.1,486.3 Z" fill="#000"/>
<path d="M717.4,486.7 A8.3,8.3 0 0 1 717.4,503.3 Z" fill="#000"/>
<path d="M760.7,503.2 A8.3,8.3 0 0 1 760.7,519.8 Z" fill="#000"/>
<path d="M803.9,488.7 A8.3,8.3 0 0 1 803.9,505.3 Z" fill="#000"/>
<path d="M847.2,462.9 A8.3,8.3 0 0 1 847.2,479.5 Z" fill="#000"/>
<path d="M890.5,462.7 A8.3,8.3 0 0 1 890.5,479.3 Z" fill="#000"/>
<line x1="375.6" y1="298.7" x2="375.6" y2="416.7" stroke="#6495ed" stroke-width="3.6"/>
<line x1="418.9" y1="374.9" x2="418.9" y2="436.2" stroke="#6495ed" stroke-width="3.6"/>
<line x1="462.2" y1="308.7" x2="462.2" y2="376.0" stroke="#6495ed" stroke-width="3.6"/>
<line x1="505.4" y1="349.0" x2="505.4" y2="415.7" stroke="#6495ed" stroke-width="3.6"/>
<line x1="548.7" y1="371.2" x2="548.7" y2="421.6" stroke="#6495ed" stroke-width="3.6"/>
<line x1="591.9" y1="404.2" x2="591.9" y2="471.4" stroke="#6495ed" stroke-width="3.6"/>
<line x1="635.2" y1="461.8" x2="635.2" y2="539.0" stroke="#6495ed" stroke-width="3.6"/>
<line x1="678.5" y1="439.2" x2="678.5" y2="527.8" stroke="#6495ed" stroke-width="3.6"/>
<line x1="721.7" y1="464.0" x2="721.7" y2="524.0" stroke="#6495ed" stroke-width="3.6"/>
<line x1="765.0" y1="479.4" x2="765.0" y2="579.4" stroke="#6495ed" stroke-width="3.6"/>
<line x1="808.2" y1="438.4" x2="808.2" y2="513.3" stroke="#6495ed" stroke-width="3.6"/>
<line x1="851.5" y1="448.7" x2="851.5" y2="522.0" stroke="#6495ed" stroke-width="3.6"/>
<line x1="894.8" y1="426.0" x2="894.8" y2="570.3" stroke="#6495ed" stroke-width="3.6"/>
<line x1="380.0" y1="286.0" x2="380.0" y2="388.4" stroke="#6495ed" stroke-width="3.6"/>
<line x1="423.2" y1="344.7" x2="423.2" y2="416.0" stroke="#6495ed" stroke-width="3.6"/>
<line x1="466.5" y1="331.6" x2="466.5" y2="394.3" stroke="#6495ed" stroke-width="3.6"/>
<line x1="509.8" y1="335.3" x2="509.8" y2="402.0" stroke="#6495ed" stroke-width="3.6"/>
<line x1="553.0" y1="356.5" x2="553.0" y2="411.4" stroke="#6495ed" stroke-width="3.6"/>
<line x1="596.3" y1="408.0" x2="596.3" y2="464.6" stroke="#6495ed" stroke-width="3.6"/>
<line x1="639.5" y1="429.4" x2="639.5" y2="520.3" stroke="#6495ed" stroke-width="3.6"/>
<line x1="682.8" y1="460.2" x2="682.8" y2="583.0" stroke="#6495ed" stroke-width="3.6"/>
<line x1="726.1" y1="461.2" x2="726.1" y2="523.5" stroke="#6495ed" stroke-width="3.6"/>
<line x1="769.3" y1="456.2" x2="769.3" y2="556.2" stroke="#6495ed" stroke-width="3.6"/>
<line x1="812.6" y1="465.4" x2="812.6" y2="599.6" stroke="#6495ed" stroke-width="3.6"/>
<line x1="855.8" y1="492.0" x2="855.8" y2="615.3" stroke="#6495ed" stroke-width="3.6"/>
<line x1="899.1" y1="589.7" x2="899.1" y2="660.0" stroke="#6495ed" stroke-width="3.6"/>
<path d="M375.6,348.4 A8.3,8.3 0 0 0 375.6,365.0 Z" fill="#6495ed"/>
<path d="M418.9,396.0 A8.3,8.3 0 0 0 418.9,412.6 Z" fill="#6495ed"/>
<path d="M462.2,334.0 A8.3,8.3 0 0 0 462.2,350.6 Z" fill="#6495ed"/>
<path d="M505.4,372.9 A8.3,8.3 0 0 0 505.4,389.5 Z" fill="#6495ed"/>
<path d="M548.7,387.7 A8.3,8.3 0 0 0 548.7,404.3 Z" fill="#6495ed"/>
<path d="M591.9,428.0 A8.3,8.3 0 0 0 591.9,444.6 Z" fill="#6495ed"/>
<path d="M635.2,494.7 A8.3,8.3 0 0 0 635.2,511.3 Z" fill="#6495ed"/>
<path d="M678.5,476.3 A8.3,8.3 0 0 0 678.5,492.9 Z" fill="#6495ed"/>
<path d="M721.7,485.1 A8.3,8.3 0 0 0 721.7,501.7 Z" fill="#6495ed"/>
<path d="M765.0,520.0 A8.3,8.3 0 0 0 765.0,536.6 Z" fill="#6495ed"/>
<path d="M808.2,466.1 A8.3,8.3 0 0 0 808.2,482.7 Z" fill="#6495ed"/>
<path d="M851.5,476.0 A8.3,8.3 0 0 0 851.5,492.6 Z" fill="#6495ed"/>
<path d="M894.8,496.2 A8.3,8.3 0 0 0 894.8,512.8 Z" fill="#6495ed"/>
<path d="M380.0,327.3 A8.3,8.3 0 0 1 380.0,343.9 Z" fill="#6495ed"/>
<path d="M423.2,366.6 A8.3,8.3 0 0 1 423.2,383.2 Z" fill="#6495ed"/>
<path d="M466.5,352.4 A8.3,8.3 0 0 1 466.5,369.0 Z" fill="#6495ed"/>
<path d="M509.8,358.5 A8.3,8.3 0 0 1 509.8,375.1 Z" fill="#6495ed"/>
<path d="M553.0,376.0 A8.3,8.3 0 0 1 553.0,392.6 Z" fill="#6495ed"/>
<path d="M596.3,427.4 A8.3,8.3 0 0 1 596.3,444.0 Z" fill="#6495ed"/>
<path d="M639.5,468.7 A8.3,8.3 0 0 1 639.5,485.3 Z" fill="#6495ed"/>
<path d="M682.8,514.9 A8.3,8.3 0 0 1 682.8,531.5 Z" fill="#6495ed"/>
<path d="M726.1,481.4 A8.3,8.3 0 0 1 726.1,498.0 Z" fill="#6495ed"/>
<path d="M769.3,495.4 A8.3,8.3 0 0 1 769.3,512.0 Z" fill="#6495ed"/>
<path d="M812.6,525.1 A8.3,8.3 0 0 1 812.6,541.7 Z" fill="#6495ed"/>
<path d="M855.8,550.9 A8.3,8.3 0 0 1 855.8,567.5 Z" fill="#6495ed"/>
<path d="M899.1,631.2 A8.3,8.3 0 0 1 899.1,647.8 Z" fill="#6495ed"/>
</g>
<line x1="309.3" y1="653.3" x2="309.3" y2="641.3" stroke="#000" stroke-width="2.9"/>
<line x1="482.4" y1="653.3" x2="482.4" y2="641.3" stroke="#000" stroke-width="2.9"/>
<line x1="655.4" y1="653.3" x2="655.4" y2="641.3" stroke="#000" stroke-width="2.9"/>
<line x1="828.5" y1="653.3" x2="828.5" y2="641.3" stroke="#000" stroke-width="2.9"/>
<line x1="135.5" y1="615.3" x2="143.0" y2="615.3" stroke="#000" stroke-width="1.8"/>
<line x1="135.5" y1="593.0" x2="143.0" y2="593.0" stroke="#000" stroke-width="1.8"/>
<line x1="135.5" y1="577.1" x2="143.0" y2="577.1" stroke="#000" stroke-width="1.8"/>
<line x1="135.5" y1="564.8" x2="143.0" y2="564.8" stroke="#000" stroke-width="1.8"/>
<line x1="135.5" y1="554.8" x2="143.0" y2="554.8" stroke="#000" stroke-width="1.8"/>
<line x1="135.5" y1="546.3" x2="143.0" y2="546.3" stroke="#000" stroke-width="1.8"/>
<line x1="135.5" y1="538.9" x2="143.0" y2="538.9" stroke="#000" stroke-width="1.8"/>
<line x1="135.5" y1="532.5" x2="143.0" y2="532.5" stroke="#000" stroke-width="1.8"/>
<line x1="135.5" y1="526.6" x2="148.5" y2="526.6" stroke="#000" stroke-width="2.8"/>
<line x1="135.5" y1="488.5" x2="143.0" y2="488.5" stroke="#000" stroke-width="1.8"/>
<line x1="135.5" y1="466.1" x2="143.0" y2="466.1" stroke="#000" stroke-width="1.8"/>
<line x1="135.5" y1="450.3" x2="143.0" y2="450.3" stroke="#000" stroke-width="1.8"/>
<line x1="135.5" y1="438.0" x2="143.0" y2="438.0" stroke="#000" stroke-width="1.8"/>
<line x1="135.5" y1="427.9" x2="143.0" y2="427.9" stroke="#000" stroke-width="1.8"/>
<line x1="135.5" y1="419.4" x2="143.0" y2="419.4" stroke="#000" stroke-width="1.8"/>
<line x1="135.5" y1="412.1" x2="143.0" y2="412.1" stroke="#000" stroke-width="1.8"/>
<line x1="135.5" y1="405.6" x2="143.0" y2="405.6" stroke="#000" stroke-width="1.8"/>
<line x1="135.5" y1="399.8" x2="148.5" y2="399.8" stroke="#000" stroke-width="2.8"/>
<line x1="135.5" y1="361.6" x2="143.0" y2="361.6" stroke="#000" stroke-width="1.8"/>
<line x1="135.5" y1="339.3" x2="143.0" y2="339.3" stroke="#000" stroke-width="1.8"/>
<line x1="135.5" y1="323.4" x2="143.0" y2="323.4" stroke="#000" stroke-width="1.8"/>
<line x1="135.5" y1="311.1" x2="143.0" y2="311.1" stroke="#000" stroke-width="1.8"/>
<line x1="135.5" y1="301.1" x2="143.0" y2="301.1" stroke="#000" stroke-width="1.8"/>
<line x1="135.5" y1="292.6" x2="143.0" y2="292.6" stroke="#000" stroke-width="1.8"/>
<line x1="135.5" y1="285.2" x2="143.0" y2="285.2" stroke="#000" stroke-width="1.8"/>
<line x1="135.5" y1="278.8" x2="143.0" y2="278.8" stroke="#000" stroke-width="1.8"/>
<line x1="135.5" y1="272.9" x2="148.5" y2="272.9" stroke="#000" stroke-width="2.8"/>
<line x1="135.5" y1="234.8" x2="143.0" y2="234.8" stroke="#000" stroke-width="1.8"/>
<line x1="135.5" y1="212.4" x2="143.0" y2="212.4" stroke="#000" stroke-width="1.8"/>
<line x1="135.5" y1="196.6" x2="143.0" y2="196.6" stroke="#000" stroke-width="1.8"/>
<line x1="135.5" y1="184.3" x2="143.0" y2="184.3" stroke="#000" stroke-width="1.8"/>
<line x1="135.5" y1="174.2" x2="143.0" y2="174.2" stroke="#000" stroke-width="1.8"/>
<line x1="135.5" y1="165.7" x2="143.0" y2="165.7" stroke="#000" stroke-width="1.8"/>
<line x1="135.5" y1="158.4" x2="143.0" y2="158.4" stroke="#000" stroke-width="1.8"/>
<line x1="135.5" y1="151.9" x2="143.0" y2="151.9" stroke="#000" stroke-width="1.8"/>
<line x1="135.5" y1="146.1" x2="148.5" y2="146.1" stroke="#000" stroke-width="2.8"/>
<line x1="135.5" y1="107.9" x2="143.0" y2="107.9" stroke="#000" stroke-width="1.8"/>
<line x1="135.5" y1="85.6" x2="143.0" y2="85.6" stroke="#000" stroke-width="1.8"/>
<line x1="135.5" y1="69.7" x2="143.0" y2="69.7" stroke="#000" stroke-width="1.8"/>
<line x1="135.5" y1="57.4" x2="143.0" y2="57.4" stroke="#000" stroke-width="1.8"/>
<line x1="135.5" y1="47.4" x2="143.0" y2="47.4" stroke="#000" stroke-width="1.8"/>
<line x1="135.5" y1="38.9" x2="143.0" y2="38.9" stroke="#000" stroke-width="1.8"/>
<line x1="135.5" y1="31.5" x2="143.0" y2="31.5" stroke="#000" stroke-width="1.8"/>
<line x1="135.5" y1="25.1" x2="143.0" y2="25.1" stroke="#000" stroke-width="1.8"/>
<line x1="135.5" y1="107.9" x2="143.0" y2="107.9" stroke="#000" stroke-width="1.8"/>
<line x1="135.5" y1="85.6" x2="143.0" y2="85.6" stroke="#000" stroke-width="1.8"/>
<line x1="135.5" y1="69.7" x2="143.0" y2="69.7" stroke="#000" stroke-width="1.8"/>
<line x1="135.5" y1="57.4" x2="143.0" y2="57.4" stroke="#000" stroke-width="1.8"/>
<line x1="135.5" y1="47.4" x2="143.0" y2="47.4" stroke="#000" stroke-width="1.8"/>
<line x1="135.5" y1="38.9" x2="143.0" y2="38.9" stroke="#000" stroke-width="1.8"/>
<line x1="135.5" y1="31.5" x2="143.0" y2="31.5" stroke="#000" stroke-width="1.8"/>
<line x1="135.5" y1="25.1" x2="143.0" y2="25.1" stroke="#000" stroke-width="1.8"/>
<rect x="135.5" y="19.2" width="866.1" height="634.0" fill="none" stroke="#000" stroke-width="2.8"/>
<line x1="899.7" y1="645.0" x2="899.7" y2="653.4" stroke="#6495ed" stroke-width="3.6"/>
<text transform="translate(45.50,665.43) scale(1.0256,1)" font-size="36.59">10</text>
<rect x="85.6" y="644.80" width="17.0" height="1.8" fill="#000"/>
<text transform="translate(105.81,652.06) scale(1.1323,1)" font-size="24.40">6</text>
<text transform="translate(45.50,538.58) scale(1.0256,1)" font-size="36.59">10</text>
<rect x="85.6" y="517.95" width="17.0" height="1.8" fill="#000"/>
<text transform="translate(105.30,525.20) scale(1.1873,1)" font-size="24.66">5</text>
<text transform="translate(45.50,411.73) scale(1.0256,1)" font-size="36.59">10</text>
<rect x="85.6" y="391.10" width="17.0" height="1.8" fill="#000"/>
<text transform="translate(106.49,398.60) scale(1.0203,1)" font-size="24.92">4</text>
<text transform="translate(45.50,284.88) scale(1.0256,1)" font-size="36.59">10</text>
<rect x="85.6" y="264.25" width="17.0" height="1.8" fill="#000"/>
<text transform="translate(105.63,271.51) scale(1.1707,1)" font-size="24.40">3</text>
<text transform="translate(45.50,158.03) scale(1.0256,1)" font-size="36.59">10</text>
<rect x="85.6" y="137.40" width="17.0" height="1.8" fill="#000"/>
<text transform="translate(105.71,144.90) scale(1.1878,1)" font-size="24.77">2</text>
<text transform="translate(45.50,31.18) scale(1.0256,1)" font-size="36.59">10</text>
<rect x="85.6" y="10.55" width="17.0" height="1.8" fill="#000"/>
<text transform="translate(105.75,17.75) scale(1.0937,1)" font-size="25.45">1</text>
<text transform="translate(124.67,691.50) scale(1.0200,1)" font-size="37.00">0</text>
<text transform="translate(297.91,691.50) scale(1.0200,1)" font-size="37.00">2</text>
<text transform="translate(470.67,691.50) scale(1.0200,1)" font-size="37.00">4</text>
<text transform="translate(643.54,691.50) scale(1.0200,1)" font-size="37.00">6</text>
<text transform="translate(816.82,691.50) scale(1.0200,1)" font-size="37.00">8</text>
<text transform="translate(979.49,691.50) scale(1.0200,1)" font-size="37.00">10</text>
<text transform="translate(394.24,741.00) scale(1.0640,1)" font-size="37.60">Baseline Length (G<tspan font-style="italic">λ</tspan>)</text>
<g transform="translate(26.3,502) rotate(-90)"><text transform="translate(-1.14,0.00) scale(1.0475,1)" font-size="37.60">Normalized Variance</text></g>
<rect x="451" y="33.4" width="536" height="156.3" rx="4.5" ry="4.5" fill="rgba(255,255,255,0.8)" stroke="#d4d4d4" stroke-width="3.3"/>
<line x1="491.8" y1="45.4" x2="491.8" y2="74.8" stroke="#000" stroke-width="3.7"/><path d="M491.8,52.1 A8.0,8.0 0 0 0 491.8,68.1 Z" fill="#000"/>
<line x1="491.8" y1="93.6" x2="491.8" y2="123.0" stroke="#6495ed" stroke-width="3.7"/><path d="M491.8,100.3 A8.0,8.0 0 0 0 491.8,116.3 Z" fill="#6495ed"/>
<path d="M484.0,150.2 L500.0,150.2 L492.0,166.4 Z" fill="#808080"/>
<line x1="705.4" y1="45.4" x2="705.4" y2="74.8" stroke="#000" stroke-width="3.7"/><path d="M705.4,52.1 A8.0,8.0 0 0 1 705.4,68.1 Z" fill="#000"/>
<line x1="705.4" y1="93.6" x2="705.4" y2="123.0" stroke="#6495ed" stroke-width="3.7"/><path d="M705.4,100.3 A8.0,8.0 0 0 1 705.4,116.3 Z" fill="#6495ed"/>
<rect x="675" y="143" width="60" height="21.5" fill="rgba(255,165,0,0.25)" stroke="rgba(255,165,0,0.35)" stroke-width="2"/>
<text transform="translate(543.86,70.75) scale(1.3560,1)" font-size="25.48" font-style="italic">σ</text><text transform="translate(562.90,59.60) scale(1.1877,1)" font-size="21.00">2</text><text transform="translate(562.22,79.60) scale(1.2276,1)" font-size="22.00">LL</text>
<text transform="translate(543.86,118.55) scale(1.3766,1)" font-size="25.10" font-style="italic">σ</text><text transform="translate(562.90,107.80) scale(1.1877,1)" font-size="21.00">2</text><text transform="translate(562.22,127.50) scale(1.2238,1)" font-size="22.00">LR</text>
<text transform="translate(757.26,70.74) scale(1.3263,1)" font-size="26.05" font-style="italic">σ</text><text transform="translate(775.84,59.60) scale(1.2589,1)" font-size="21.00">2</text><text transform="translate(775.48,79.60) scale(1.2863,1)" font-size="22.00">RR</text>
<text transform="translate(757.26,118.65) scale(1.3662,1)" font-size="25.29" font-style="italic">σ</text><text transform="translate(775.84,108.00) scale(1.2773,1)" font-size="20.69">2</text><text transform="translate(775.49,127.50) scale(1.2730,1)" font-size="22.00">RL</text>
<path d="M554,142.8 L545.2,160.2 L554,177.7" fill="none" stroke="#000" stroke-width="1.3"/>
<text transform="translate(556.14,167.65) scale(1.2624,1)" font-size="25.29" font-style="italic">σ</text><text transform="translate(575.16,156.60) scale(1.2441,1)" font-size="20.85">2</text><text transform="translate(574.59,176.58) scale(1.3907,1)" font-size="22.00">th</text>
<path d="M603,142.8 L611.8,160.2 L603,177.7" fill="none" stroke="#000" stroke-width="1.3"/>
<text transform="translate(758.02,165.40) scale(1.0449,1)" font-size="32.40">Fit range (95%)</text>
</svg></body></html>
